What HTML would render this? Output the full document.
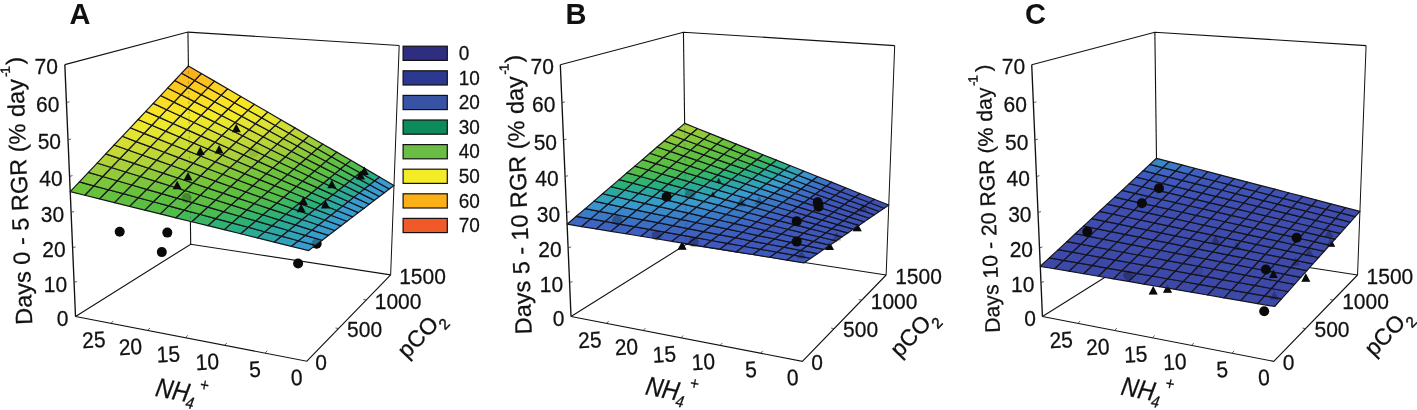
<!DOCTYPE html>
<html><head><meta charset="utf-8"><title>Figure</title>
<style>
html,body{margin:0;padding:0;background:#fff;}
body{width:1417px;height:410px;overflow:hidden;}
svg{display:block;}
.t{font-family:"Liberation Sans",Arial,Helvetica,sans-serif;font-size:21px;fill:#111;stroke:#111;stroke-width:0.25px;}
.a{font-family:"Liberation Sans",Arial,Helvetica,sans-serif;font-size:23px;fill:#111;stroke:#111;stroke-width:0.25px;}
.a text{fill:#111;}
.b{font-family:"Liberation Sans",Arial,Helvetica,sans-serif;font-size:29px;font-weight:bold;fill:#111;}
</style></head><body>
<svg width="1417" height="410" viewBox="0 0 1417 410">
<rect width="1417" height="410" fill="#fff"/>
<polyline points="64.82,64.64 187.95,32.08 399.19,45.49" stroke="#111" stroke-width="1.1" fill="none"/>
<polyline points="187.95,32.08 190.7,244.22" stroke="#111" stroke-width="1.1" fill="none"/>
<polyline points="399.19,45.49 390.65,274.9" stroke="#111" stroke-width="1" fill="none"/>
<polyline points="75.52,316.44 190.7,244.22 390.65,274.9" stroke="#111" stroke-width="1.1" fill="none"/>
<polyline points="75.52,316.44 306.86,361.23 390.65,274.9" stroke="#111" stroke-width="1.1" fill="none"/>
<polyline points="64.82,64.64 75.52,316.44" stroke="#111" stroke-width="1.35" fill="none"/>
<text transform="translate(68.52,326.04) scale(1,1.075)" text-anchor="end" class="t">0</text>
<line x1="74.07" y1="282.34" x2="77.07" y2="281.54" stroke="#333" stroke-width="0.8"/>
<text transform="translate(67.07,291.94) scale(1,1.075)" text-anchor="end" class="t">10</text>
<line x1="72.6" y1="247.65" x2="75.6" y2="246.85" stroke="#333" stroke-width="0.8"/>
<text transform="translate(65.6,257.25) scale(1,1.075)" text-anchor="end" class="t">20</text>
<line x1="71.1" y1="212.34" x2="74.1" y2="211.54" stroke="#333" stroke-width="0.8"/>
<text transform="translate(64.1,221.94) scale(1,1.075)" text-anchor="end" class="t">30</text>
<line x1="69.57" y1="176.4" x2="72.57" y2="175.6" stroke="#333" stroke-width="0.8"/>
<text transform="translate(62.57,186) scale(1,1.075)" text-anchor="end" class="t">40</text>
<line x1="68.02" y1="139.81" x2="71.02" y2="139.01" stroke="#333" stroke-width="0.8"/>
<text transform="translate(61.02,149.41) scale(1,1.075)" text-anchor="end" class="t">50</text>
<line x1="66.43" y1="102.57" x2="69.43" y2="101.77" stroke="#333" stroke-width="0.8"/>
<text transform="translate(59.43,112.17) scale(1,1.075)" text-anchor="end" class="t">60</text>
<text transform="translate(57.82,74.24) scale(1,1.075)" text-anchor="end" class="t">70</text>
<text transform="translate(302.86,384.83) rotate(-3) scale(1,1.075)" text-anchor="end" class="t">0</text>
<line x1="265.04" y1="353.13" x2="267.24" y2="350.73" stroke="#333" stroke-width="0.8"/>
<text transform="translate(261.04,376.73) rotate(-3) scale(1,1.075)" text-anchor="end" class="t">5</text>
<line x1="224.61" y1="345.31" x2="226.81" y2="342.91" stroke="#333" stroke-width="0.8"/>
<text transform="translate(219.41,368.91) rotate(-3) scale(1,1.075)" text-anchor="end" class="t">10</text>
<line x1="185.51" y1="337.74" x2="187.71" y2="335.34" stroke="#333" stroke-width="0.8"/>
<text transform="translate(180.31,361.34) rotate(-3) scale(1,1.075)" text-anchor="end" class="t">15</text>
<line x1="147.67" y1="330.41" x2="149.87" y2="328.01" stroke="#333" stroke-width="0.8"/>
<text transform="translate(142.47,354.01) rotate(-3) scale(1,1.075)" text-anchor="end" class="t">20</text>
<line x1="111.02" y1="323.32" x2="113.22" y2="320.92" stroke="#333" stroke-width="0.8"/>
<text transform="translate(105.82,346.92) rotate(-3) scale(1,1.075)" text-anchor="end" class="t">25</text>
<text transform="translate(315.36,369.83) scale(1,1.075)" class="t">0</text>
<line x1="338.55" y1="328.58" x2="335.55" y2="327.98" stroke="#333" stroke-width="0.8"/>
<text transform="translate(347.05,337.18) scale(1,1.075)" class="t">500</text>
<line x1="366.25" y1="300.05" x2="363.25" y2="299.45" stroke="#333" stroke-width="0.8"/>
<text transform="translate(374.75,308.65) scale(1,1.075)" class="t">1000</text>
<text transform="translate(399.15,283.5) scale(1,1.075)" class="t">1500</text>
<polyline points="560.32,64.74 683.45,32.18 894.69,45.59" stroke="#111" stroke-width="1.1" fill="none"/>
<polyline points="683.45,32.18 686.2,244.32" stroke="#111" stroke-width="1.1" fill="none"/>
<polyline points="894.69,45.59 886.15,275" stroke="#111" stroke-width="1" fill="none"/>
<polyline points="571.02,316.54 686.2,244.32 886.15,275" stroke="#111" stroke-width="1.1" fill="none"/>
<polyline points="571.02,316.54 802.36,361.33 886.15,275" stroke="#111" stroke-width="1.1" fill="none"/>
<polyline points="560.32,64.74 571.02,316.54" stroke="#111" stroke-width="1.35" fill="none"/>
<text transform="translate(564.52,326.14) scale(1,1.075)" text-anchor="end" class="t">0</text>
<line x1="569.57" y1="282.44" x2="572.57" y2="281.64" stroke="#333" stroke-width="0.8"/>
<text transform="translate(563.07,292.04) scale(1,1.075)" text-anchor="end" class="t">10</text>
<line x1="568.1" y1="247.75" x2="571.1" y2="246.95" stroke="#333" stroke-width="0.8"/>
<text transform="translate(561.6,257.35) scale(1,1.075)" text-anchor="end" class="t">20</text>
<line x1="566.6" y1="212.44" x2="569.6" y2="211.64" stroke="#333" stroke-width="0.8"/>
<text transform="translate(560.1,222.04) scale(1,1.075)" text-anchor="end" class="t">30</text>
<line x1="565.07" y1="176.5" x2="568.07" y2="175.7" stroke="#333" stroke-width="0.8"/>
<text transform="translate(558.57,186.1) scale(1,1.075)" text-anchor="end" class="t">40</text>
<line x1="563.52" y1="139.91" x2="566.52" y2="139.11" stroke="#333" stroke-width="0.8"/>
<text transform="translate(557.02,149.51) scale(1,1.075)" text-anchor="end" class="t">50</text>
<line x1="561.93" y1="102.67" x2="564.93" y2="101.87" stroke="#333" stroke-width="0.8"/>
<text transform="translate(555.43,112.27) scale(1,1.075)" text-anchor="end" class="t">60</text>
<text transform="translate(553.82,74.34) scale(1,1.075)" text-anchor="end" class="t">70</text>
<text transform="translate(798.86,384.93) rotate(-3) scale(1,1.075)" text-anchor="end" class="t">0</text>
<line x1="760.54" y1="353.23" x2="762.74" y2="350.83" stroke="#333" stroke-width="0.8"/>
<text transform="translate(757.04,376.83) rotate(-3) scale(1,1.075)" text-anchor="end" class="t">5</text>
<line x1="720.11" y1="345.41" x2="722.31" y2="343.01" stroke="#333" stroke-width="0.8"/>
<text transform="translate(715.41,369.01) rotate(-3) scale(1,1.075)" text-anchor="end" class="t">10</text>
<line x1="681.01" y1="337.84" x2="683.21" y2="335.44" stroke="#333" stroke-width="0.8"/>
<text transform="translate(676.31,361.44) rotate(-3) scale(1,1.075)" text-anchor="end" class="t">15</text>
<line x1="643.17" y1="330.51" x2="645.37" y2="328.11" stroke="#333" stroke-width="0.8"/>
<text transform="translate(638.47,354.11) rotate(-3) scale(1,1.075)" text-anchor="end" class="t">20</text>
<line x1="606.52" y1="323.42" x2="608.72" y2="321.02" stroke="#333" stroke-width="0.8"/>
<text transform="translate(601.82,347.02) rotate(-3) scale(1,1.075)" text-anchor="end" class="t">25</text>
<text transform="translate(811.36,369.93) scale(1,1.075)" class="t">0</text>
<line x1="834.05" y1="328.68" x2="831.05" y2="328.08" stroke="#333" stroke-width="0.8"/>
<text transform="translate(843.05,337.28) scale(1,1.075)" class="t">500</text>
<line x1="861.75" y1="300.15" x2="858.75" y2="299.55" stroke="#333" stroke-width="0.8"/>
<text transform="translate(870.75,308.75) scale(1,1.075)" class="t">1000</text>
<text transform="translate(895.15,283.6) scale(1,1.075)" class="t">1500</text>
<polyline points="1031.72,64.74 1154.85,32.18 1366.09,45.59" stroke="#111" stroke-width="1.1" fill="none"/>
<polyline points="1154.85,32.18 1157.6,244.32" stroke="#111" stroke-width="1.1" fill="none"/>
<polyline points="1366.09,45.59 1357.55,275" stroke="#111" stroke-width="1" fill="none"/>
<polyline points="1042.42,316.54 1157.6,244.32 1357.55,275" stroke="#111" stroke-width="1.1" fill="none"/>
<polyline points="1042.42,316.54 1273.76,361.33 1357.55,275" stroke="#111" stroke-width="1.1" fill="none"/>
<polyline points="1031.72,64.74 1042.42,316.54" stroke="#111" stroke-width="1.35" fill="none"/>
<text transform="translate(1035.92,326.14) scale(1,1.075)" text-anchor="end" class="t">0</text>
<line x1="1040.97" y1="282.44" x2="1043.97" y2="281.64" stroke="#333" stroke-width="0.8"/>
<text transform="translate(1034.47,292.04) scale(1,1.075)" text-anchor="end" class="t">10</text>
<line x1="1039.5" y1="247.75" x2="1042.5" y2="246.95" stroke="#333" stroke-width="0.8"/>
<text transform="translate(1033,257.35) scale(1,1.075)" text-anchor="end" class="t">20</text>
<line x1="1038" y1="212.44" x2="1041" y2="211.64" stroke="#333" stroke-width="0.8"/>
<text transform="translate(1031.5,222.04) scale(1,1.075)" text-anchor="end" class="t">30</text>
<line x1="1036.47" y1="176.5" x2="1039.47" y2="175.7" stroke="#333" stroke-width="0.8"/>
<text transform="translate(1029.97,186.1) scale(1,1.075)" text-anchor="end" class="t">40</text>
<line x1="1034.92" y1="139.91" x2="1037.92" y2="139.11" stroke="#333" stroke-width="0.8"/>
<text transform="translate(1028.42,149.51) scale(1,1.075)" text-anchor="end" class="t">50</text>
<line x1="1033.33" y1="102.67" x2="1036.33" y2="101.87" stroke="#333" stroke-width="0.8"/>
<text transform="translate(1026.83,112.27) scale(1,1.075)" text-anchor="end" class="t">60</text>
<text transform="translate(1025.22,74.34) scale(1,1.075)" text-anchor="end" class="t">70</text>
<text transform="translate(1270.26,384.93) rotate(-3) scale(1,1.075)" text-anchor="end" class="t">0</text>
<line x1="1231.94" y1="353.23" x2="1234.14" y2="350.83" stroke="#333" stroke-width="0.8"/>
<text transform="translate(1228.44,376.83) rotate(-3) scale(1,1.075)" text-anchor="end" class="t">5</text>
<line x1="1191.51" y1="345.41" x2="1193.71" y2="343.01" stroke="#333" stroke-width="0.8"/>
<text transform="translate(1186.81,369.01) rotate(-3) scale(1,1.075)" text-anchor="end" class="t">10</text>
<line x1="1152.41" y1="337.84" x2="1154.61" y2="335.44" stroke="#333" stroke-width="0.8"/>
<text transform="translate(1147.71,361.44) rotate(-3) scale(1,1.075)" text-anchor="end" class="t">15</text>
<line x1="1114.57" y1="330.51" x2="1116.77" y2="328.11" stroke="#333" stroke-width="0.8"/>
<text transform="translate(1109.87,354.11) rotate(-3) scale(1,1.075)" text-anchor="end" class="t">20</text>
<line x1="1077.92" y1="323.42" x2="1080.12" y2="321.02" stroke="#333" stroke-width="0.8"/>
<text transform="translate(1073.22,347.02) rotate(-3) scale(1,1.075)" text-anchor="end" class="t">25</text>
<text transform="translate(1282.76,369.93) scale(1,1.075)" class="t">0</text>
<line x1="1305.45" y1="328.68" x2="1302.45" y2="328.08" stroke="#333" stroke-width="0.8"/>
<text transform="translate(1314.45,337.28) scale(1,1.075)" class="t">500</text>
<line x1="1333.15" y1="300.15" x2="1330.15" y2="299.55" stroke="#333" stroke-width="0.8"/>
<text transform="translate(1342.15,308.75) scale(1,1.075)" class="t">1000</text>
<text transform="translate(1366.55,283.6) scale(1,1.075)" class="t">1500</text>
<circle cx="316.6" cy="243.7" r="5" fill="#0a0a0a" opacity="1"/>
<polygon points="682.1,241.18 686.6,249.72 677.6,249.72" fill="#0a0a0a" opacity="1"/>
<polygon points="857.2,222.78 861.7,231.32 852.7,231.32" fill="#0a0a0a" opacity="1"/>
<polygon points="829.5,241.47 834,250.02 825,250.02" fill="#0a0a0a" opacity="1"/>
<polygon points="1153.2,285.97 1157.7,294.52 1148.7,294.52" fill="#0a0a0a" opacity="1"/>
<polygon points="1167.5,284.27 1172,292.82 1163,292.82" fill="#0a0a0a" opacity="1"/>
<polygon points="1305.8,273.27 1310.3,281.82 1301.3,281.82" fill="#0a0a0a" opacity="1"/>
<polygon points="1330.7,238.18 1335.2,246.72 1326.2,246.72" fill="#0a0a0a" opacity="1"/>
<g stroke="#16141c" stroke-width="1.2" stroke-linejoin="round"><polygon points="308.68,250.6 291.32,246.31 298.39,240.75 315.54,245.36" fill="#379dca"/><polygon points="315.54,245.36 298.39,240.75 305.25,235.35 322.2,240.27" fill="#379dca"/><polygon points="322.2,240.27 305.25,235.35 311.93,230.1 328.66,235.33" fill="#379dcb"/><polygon points="328.66,235.33 311.93,230.1 318.42,225 334.95,230.52" fill="#379dcb"/><polygon points="334.95,230.52 318.42,225 324.73,220.04 341.06,225.85" fill="#379dcb"/><polygon points="341.06,225.85 324.73,220.04 330.87,215.21 347,221.31" fill="#379dcb"/><polygon points="347,221.31 330.87,215.21 336.85,210.51 352.79,216.89" fill="#389ccc"/><polygon points="352.79,216.89 336.85,210.51 342.67,205.93 358.42,212.59" fill="#389ccc"/><polygon points="358.42,212.59 342.67,205.93 348.34,201.47 363.9,208.4" fill="#389ccc"/><polygon points="363.9,208.4 348.34,201.47 353.86,197.13 369.24,204.31" fill="#389ccc"/><polygon points="369.24,204.31 353.86,197.13 359.25,192.9 374.44,200.34" fill="#389ccc"/><polygon points="374.44,200.34 359.25,192.9 364.5,188.77 379.51,196.46" fill="#389ccd"/><polygon points="379.51,196.46 364.5,188.77 369.62,184.74 384.46,192.68" fill="#389ccd"/><polygon points="384.46,192.68 369.62,184.74 374.61,180.81 389.28,189" fill="#389ccd"/><polygon points="389.28,189 374.61,180.81 379.49,176.98 393.98,185.4" fill="#389ccd"/><polygon points="291.32,246.31 274.18,242.08 281.45,236.2 298.39,240.75" fill="#32a2ba"/><polygon points="298.39,240.75 281.45,236.2 288.52,230.49 305.25,235.35" fill="#31a3b6"/><polygon points="305.25,235.35 288.52,230.49 295.39,224.94 311.93,230.1" fill="#30a4b3"/><polygon points="311.93,230.1 295.39,224.94 302.08,219.54 318.42,225" fill="#2fa5af"/><polygon points="318.42,225 302.08,219.54 308.58,214.29 324.73,220.04" fill="#2ea6ac"/><polygon points="324.73,220.04 308.58,214.29 314.92,209.17 330.87,215.21" fill="#2da7a9"/><polygon points="330.87,215.21 314.92,209.17 321.08,204.19 336.85,210.51" fill="#2ca8a5"/><polygon points="336.85,210.51 321.08,204.19 327.08,199.34 342.67,205.93" fill="#2ca9a1"/><polygon points="342.67,205.93 327.08,199.34 332.93,194.62 348.34,201.47" fill="#2baa9d"/><polygon points="348.34,201.47 332.93,194.62 338.64,190.01 353.86,197.13" fill="#2baa99"/><polygon points="353.86,197.13 338.64,190.01 344.2,185.52 359.25,192.9" fill="#2aab95"/><polygon points="359.25,192.9 344.2,185.52 349.62,181.14 364.5,188.77" fill="#2aac91"/><polygon points="364.5,188.77 349.62,181.14 354.91,176.87 369.62,184.74" fill="#2aad8c"/><polygon points="369.62,184.74 354.91,176.87 360.07,172.7 374.61,180.81" fill="#29ae88"/><polygon points="374.61,180.81 360.07,172.7 365.11,168.63 379.49,176.98" fill="#29ae84"/><polygon points="274.18,242.08 257.26,237.9 264.73,231.71 281.45,236.2" fill="#2da7a9"/><polygon points="281.45,236.2 264.73,231.71 271.99,225.69 288.52,230.49" fill="#2ca9a2"/><polygon points="288.52,230.49 271.99,225.69 279.06,219.84 295.39,224.94" fill="#2baa99"/><polygon points="295.39,224.94 279.06,219.84 285.93,214.14 302.08,219.54" fill="#2aac90"/><polygon points="302.08,219.54 285.93,214.14 292.62,208.6 308.58,214.29" fill="#29ae88"/><polygon points="308.58,214.29 292.62,208.6 299.13,203.2 314.92,209.17" fill="#28af7f"/><polygon points="314.92,209.17 299.13,203.2 305.48,197.95 321.08,204.19" fill="#2bb178"/><polygon points="321.08,204.19 305.48,197.95 311.66,192.82 327.08,199.34" fill="#2fb372"/><polygon points="327.08,199.34 311.66,192.82 317.68,187.83 332.93,194.62" fill="#33b46c"/><polygon points="332.93,194.62 317.68,187.83 323.56,182.96 338.64,190.01" fill="#37b667"/><polygon points="338.64,190.01 323.56,182.96 329.28,178.22 344.2,185.52" fill="#3cb861"/><polygon points="344.2,185.52 329.28,178.22 334.87,173.59 349.62,181.14" fill="#40b95b"/><polygon points="349.62,181.14 334.87,173.59 340.33,169.07 354.91,176.87" fill="#46ba56"/><polygon points="354.91,176.87 340.33,169.07 345.65,164.66 360.07,172.7" fill="#4bbc50"/><polygon points="360.07,172.7 345.65,164.66 350.85,160.35 365.11,168.63" fill="#50bd4b"/><polygon points="257.26,237.9 240.56,233.77 248.22,227.27 264.73,231.71" fill="#2bab96"/><polygon points="264.73,231.71 248.22,227.27 255.67,220.95 271.99,225.69" fill="#29ad89"/><polygon points="271.99,225.69 255.67,220.95 262.91,214.79 279.06,219.84" fill="#28b07c"/><polygon points="279.06,219.84 262.91,214.79 269.97,208.81 285.93,214.14" fill="#2eb373"/><polygon points="285.93,214.14 269.97,208.81 276.83,202.98 292.62,208.6" fill="#35b56a"/><polygon points="292.62,208.6 276.83,202.98 283.52,197.3 299.13,203.2" fill="#3bb861"/><polygon points="299.13,203.2 283.52,197.3 290.04,191.76 305.48,197.95" fill="#43ba59"/><polygon points="305.48,197.95 290.04,191.76 296.39,186.37 311.66,192.82" fill="#4abc50"/><polygon points="311.66,192.82 296.39,186.37 302.58,181.11 317.68,187.83" fill="#52be48"/><polygon points="317.68,187.83 302.58,181.11 308.62,175.98 323.56,182.96" fill="#56be45"/><polygon points="323.56,182.96 308.62,175.98 314.51,170.98 329.28,178.22" fill="#58bf43"/><polygon points="329.28,178.22 314.51,170.98 320.26,166.1 334.87,173.59" fill="#5bbf42"/><polygon points="334.87,173.59 320.26,166.1 325.87,161.33 340.33,169.07" fill="#5ec040"/><polygon points="340.33,169.07 325.87,161.33 331.35,156.68 345.65,164.66" fill="#60c03f"/><polygon points="345.65,164.66 331.35,156.68 336.71,152.13 350.85,160.35" fill="#63c13d"/><polygon points="240.56,233.77 224.08,229.7 231.92,222.89 248.22,227.27" fill="#29af82"/><polygon points="248.22,227.27 231.92,222.89 239.54,216.26 255.67,220.95" fill="#2eb274"/><polygon points="255.67,220.95 239.54,216.26 246.96,209.81 262.91,214.79" fill="#36b668"/><polygon points="262.91,214.79 246.96,209.81 254.18,203.53 269.97,208.81" fill="#3fb95c"/><polygon points="269.97,208.81 254.18,203.53 261.22,197.41 276.83,202.98" fill="#4abb51"/><polygon points="276.83,202.98 261.22,197.41 268.08,191.45 283.52,197.3" fill="#54be46"/><polygon points="283.52,197.3 268.08,191.45 274.76,185.65 290.04,191.76" fill="#57bf44"/><polygon points="290.04,191.76 274.76,185.65 281.27,179.98 296.39,186.37" fill="#5bbf42"/><polygon points="296.39,186.37 281.27,179.98 287.63,174.46 302.58,181.11" fill="#5ec040"/><polygon points="302.58,181.11 287.63,174.46 293.82,169.07 308.62,175.98" fill="#62c13e"/><polygon points="308.62,175.98 293.82,169.07 299.87,163.81 314.51,170.98" fill="#65c13c"/><polygon points="314.51,170.98 299.87,163.81 305.78,158.68 320.26,166.1" fill="#69c23a"/><polygon points="320.26,166.1 305.78,158.68 311.54,153.67 325.87,161.33" fill="#70c33a"/><polygon points="325.87,161.33 311.54,153.67 317.17,148.77 331.35,156.68" fill="#77c53a"/><polygon points="331.35,156.68 317.17,148.77 322.68,143.99 336.71,152.13" fill="#7ec63a"/><polygon points="224.08,229.7 207.81,225.68 215.81,218.56 231.92,222.89" fill="#2fb372"/><polygon points="231.92,222.89 215.81,218.56 223.6,211.64 239.54,216.26" fill="#3ab763"/><polygon points="239.54,216.26 223.6,211.64 231.19,204.89 246.96,209.81" fill="#46bb55"/><polygon points="246.96,209.81 231.19,204.89 238.58,198.32 254.18,203.53" fill="#53be47"/><polygon points="254.18,203.53 238.58,198.32 245.78,191.92 261.22,197.41" fill="#58bf44"/><polygon points="261.22,197.41 245.78,191.92 252.8,185.68 268.08,191.45" fill="#5cc041"/><polygon points="268.08,191.45 252.8,185.68 259.64,179.59 274.76,185.65" fill="#61c13e"/><polygon points="274.76,185.65 259.64,179.59 266.31,173.66 281.27,179.98" fill="#65c13c"/><polygon points="281.27,179.98 266.31,173.66 272.82,167.87 287.63,174.46" fill="#6ac23a"/><polygon points="287.63,174.46 272.82,167.87 279.17,162.22 293.82,169.07" fill="#73c43a"/><polygon points="293.82,169.07 279.17,162.22 285.37,156.71 299.87,163.81" fill="#7bc63a"/><polygon points="299.87,163.81 285.37,156.71 291.42,151.32 305.78,158.68" fill="#84c73a"/><polygon points="305.78,158.68 291.42,151.32 297.34,146.06 311.54,153.67" fill="#8dc93a"/><polygon points="311.54,153.67 297.34,146.06 303.11,140.93 317.17,148.77" fill="#95cb3a"/><polygon points="317.17,148.77 303.11,140.93 308.76,135.9 322.68,143.99" fill="#9ecd3a"/><polygon points="207.81,225.68 191.74,221.72 199.91,214.29 215.81,218.56" fill="#39b764"/><polygon points="215.81,218.56 199.91,214.29 207.86,207.06 223.6,211.64" fill="#48bb53"/><polygon points="223.6,211.64 207.86,207.06 215.61,200.02 231.19,204.89" fill="#55be45"/><polygon points="231.19,204.89 215.61,200.02 223.15,193.16 238.58,198.32" fill="#5abf42"/><polygon points="238.58,198.32 223.15,193.16 230.51,186.48 245.78,191.92" fill="#5fc03f"/><polygon points="245.78,191.92 230.51,186.48 237.68,179.96 252.8,185.68" fill="#65c13c"/><polygon points="252.8,185.68 237.68,179.96 244.67,173.6 259.64,179.59" fill="#6bc33a"/><polygon points="259.64,179.59 244.67,173.6 251.49,167.4 266.31,173.66" fill="#76c53a"/><polygon points="266.31,173.66 251.49,167.4 258.15,161.34 272.82,167.87" fill="#80c73a"/><polygon points="272.82,167.87 258.15,161.34 264.65,155.44 279.17,162.22" fill="#8ac93a"/><polygon points="279.17,162.22 264.65,155.44 271,149.67 285.37,156.71" fill="#95cb3a"/><polygon points="285.37,156.71 271,149.67 277.2,144.03 291.42,151.32" fill="#9fce3a"/><polygon points="291.42,151.32 277.2,144.03 283.25,138.53 297.34,146.06" fill="#a9d03a"/><polygon points="297.34,146.06 283.25,138.53 289.17,133.15 303.11,140.93" fill="#b1d339"/><polygon points="303.11,140.93 289.17,133.15 294.96,127.89 308.76,135.9" fill="#b9d637"/><polygon points="191.74,221.72 175.88,217.8 184.2,210.07 199.91,214.29" fill="#44ba57"/><polygon points="199.91,214.29 184.2,210.07 192.31,202.54 207.86,207.06" fill="#55be46"/><polygon points="207.86,207.06 192.31,202.54 200.2,195.21 215.61,200.02" fill="#5bbf42"/><polygon points="215.61,200.02 200.2,195.21 207.9,188.06 223.15,193.16" fill="#61c13e"/><polygon points="223.15,193.16 207.9,188.06 215.4,181.1 230.51,186.48" fill="#67c23b"/><polygon points="230.51,186.48 215.4,181.1 222.72,174.3 237.68,179.96" fill="#72c43a"/><polygon points="237.68,179.96 222.72,174.3 229.86,167.67 244.67,173.6" fill="#7ec63a"/><polygon points="244.67,173.6 229.86,167.67 236.83,161.2 251.49,167.4" fill="#8ac83a"/><polygon points="251.49,167.4 236.83,161.2 243.63,154.88 258.15,161.34" fill="#96cb3a"/><polygon points="258.15,161.34 243.63,154.88 250.27,148.72 264.65,155.44" fill="#a2ce3a"/><polygon points="264.65,155.44 250.27,148.72 256.76,142.69 271,149.67" fill="#add239"/><polygon points="271,149.67 256.76,142.69 263.09,136.81 277.2,144.03" fill="#b6d538"/><polygon points="277.2,144.03 263.09,136.81 269.29,131.05 283.25,138.53" fill="#bfd836"/><polygon points="283.25,138.53 269.29,131.05 275.34,125.43 289.17,133.15" fill="#c7db35"/><polygon points="289.17,133.15 275.34,125.43 281.26,119.93 294.96,127.89" fill="#cfde33"/><polygon points="175.88,217.8 160.22,213.93 168.69,205.9 184.2,210.07" fill="#50bd4a"/><polygon points="184.2,210.07 168.69,205.9 176.93,198.08 192.31,202.54" fill="#5abf43"/><polygon points="192.31,202.54 176.93,198.08 184.98,190.46 200.2,195.21" fill="#60c03f"/><polygon points="200.2,195.21 184.98,190.46 192.82,183.02 207.9,188.06" fill="#67c23a"/><polygon points="207.9,188.06 192.82,183.02 200.46,175.77 215.4,181.1" fill="#75c43a"/><polygon points="215.4,181.1 200.46,175.77 207.92,168.7 222.72,174.3" fill="#82c73a"/><polygon points="222.72,174.3 207.92,168.7 215.2,161.8 229.86,167.67" fill="#90ca3a"/><polygon points="229.86,167.67 215.2,161.8 222.31,155.06 236.83,161.2" fill="#9ecd3a"/><polygon points="236.83,161.2 222.31,155.06 229.25,148.48 243.63,154.88" fill="#abd13a"/><polygon points="243.63,154.88 229.25,148.48 236.02,142.06 250.27,148.72" fill="#b5d438"/><polygon points="250.27,148.72 236.02,142.06 242.65,135.78 256.76,142.69" fill="#bfd836"/><polygon points="256.76,142.69 242.65,135.78 249.12,129.64 263.09,136.81" fill="#c9db34"/><polygon points="263.09,136.81 249.12,129.64 255.44,123.65 269.29,131.05" fill="#d2df33"/><polygon points="269.29,131.05 255.44,123.65 261.63,117.78 275.34,125.43" fill="#dbe231"/><polygon points="275.34,125.43 261.63,117.78 267.68,112.05 281.26,119.93" fill="#e3e52f"/><polygon points="160.22,213.93 144.75,210.11 153.36,201.78 168.69,205.9" fill="#57bf44"/><polygon points="168.69,205.9 153.36,201.78 161.74,193.67 176.93,198.08" fill="#5ec040"/><polygon points="176.93,198.08 161.74,193.67 169.92,185.76 184.98,190.46" fill="#66c23b"/><polygon points="184.98,190.46 169.92,185.76 177.9,178.04 192.82,183.02" fill="#74c43a"/><polygon points="192.82,183.02 177.9,178.04 185.68,170.51 200.46,175.77" fill="#83c73a"/><polygon points="200.46,175.77 185.68,170.51 193.28,163.16 207.92,168.7" fill="#93cb3a"/><polygon points="207.92,168.7 193.28,163.16 200.69,155.99 215.2,161.8" fill="#a2cf3a"/><polygon points="215.2,161.8 200.69,155.99 207.93,148.99 222.31,155.06" fill="#b0d339"/><polygon points="222.31,155.06 207.93,148.99 215,142.14 229.25,148.48" fill="#bbd637"/><polygon points="229.25,148.48 215,142.14 221.91,135.46 236.02,142.06" fill="#c6da35"/><polygon points="236.02,142.06 221.91,135.46 228.66,128.93 242.65,135.78" fill="#d0de33"/><polygon points="242.65,135.78 228.66,128.93 235.26,122.54 249.12,129.64" fill="#dbe231"/><polygon points="249.12,129.64 235.26,122.54 241.71,116.3 255.44,123.65" fill="#e3e52f"/><polygon points="255.44,123.65 241.71,116.3 248.03,110.19 261.63,117.78" fill="#eae72c"/><polygon points="261.63,117.78 248.03,110.19 254.2,104.22 267.68,112.05" fill="#f0e92a"/><polygon points="144.75,210.11 129.48,206.34 138.21,197.71 153.36,201.78" fill="#5bbf42"/><polygon points="153.36,201.78 138.21,197.71 146.73,189.31 161.74,193.67" fill="#63c13d"/><polygon points="161.74,193.67 146.73,189.31 155.04,181.11 169.92,185.76" fill="#70c33a"/><polygon points="169.92,185.76 155.04,181.11 163.15,173.11 177.9,178.04" fill="#81c73a"/><polygon points="177.9,178.04 163.15,173.11 171.06,165.3 185.68,170.51" fill="#92cb3a"/><polygon points="185.68,170.51 171.06,165.3 178.78,157.68 193.28,163.16" fill="#a4cf3a"/><polygon points="193.28,163.16 178.78,157.68 186.33,150.24 200.69,155.99" fill="#b2d338"/><polygon points="200.69,155.99 186.33,150.24 193.69,142.97 207.93,148.99" fill="#bfd836"/><polygon points="207.93,148.99 193.69,142.97 200.89,135.87 215,142.14" fill="#cadc34"/><polygon points="215,142.14 200.89,135.87 207.92,128.92 221.91,135.46" fill="#d6e032"/><polygon points="221.91,135.46 207.92,128.92 214.8,122.14 228.66,128.93" fill="#e1e430"/><polygon points="228.66,128.93 214.8,122.14 221.53,115.5 235.26,122.54" fill="#e8e62d"/><polygon points="235.26,122.54 221.53,115.5 228.1,109.01 241.71,116.3" fill="#efe92a"/><polygon points="241.71,116.3 228.1,109.01 234.54,102.67 248.03,110.19" fill="#f5e928"/><polygon points="248.03,110.19 234.54,102.67 240.83,96.45 254.2,104.22" fill="#f7e626"/><polygon points="129.48,206.34 114.39,202.61 123.25,193.69 138.21,197.71" fill="#5fc040"/><polygon points="138.21,197.71 123.25,193.69 131.89,185 146.73,189.31" fill="#68c23a"/><polygon points="146.73,189.31 131.89,185 140.33,176.51 155.04,181.11" fill="#7bc63a"/><polygon points="155.04,181.11 140.33,176.51 148.56,168.23 163.15,173.11" fill="#8eca3a"/><polygon points="163.15,173.11 148.56,168.23 156.59,160.15 171.06,165.3" fill="#a1ce3a"/><polygon points="171.06,165.3 156.59,160.15 164.44,152.26 178.78,157.68" fill="#b1d338"/><polygon points="178.78,157.68 164.44,152.26 172.11,144.54 186.33,150.24" fill="#bfd836"/><polygon points="186.33,150.24 172.11,144.54 179.59,137.01 193.69,142.97" fill="#ccdd34"/><polygon points="193.69,142.97 179.59,137.01 186.91,129.65 200.89,135.87" fill="#d9e131"/><polygon points="200.89,135.87 186.91,129.65 194.07,122.45 207.92,128.92" fill="#e3e52f"/><polygon points="207.92,128.92 194.07,122.45 201.07,115.41 214.8,122.14" fill="#ebe72b"/><polygon points="214.8,122.14 201.07,115.41 207.91,108.53 221.53,115.5" fill="#f3ea28"/><polygon points="221.53,115.5 207.91,108.53 214.6,101.79 228.1,109.01" fill="#f6e727"/><polygon points="228.1,109.01 214.6,101.79 221.15,95.2 234.54,102.67" fill="#f9e325"/><polygon points="234.54,102.67 221.15,95.2 227.57,88.75 240.83,96.45" fill="#fade23"/><polygon points="114.39,202.61 99.48,198.93 108.46,189.72 123.25,193.69" fill="#63c13d"/><polygon points="123.25,193.69 108.46,189.72 117.23,180.74 131.89,185" fill="#72c43a"/><polygon points="131.89,185 117.23,180.74 125.78,171.97 140.33,176.51" fill="#86c83a"/><polygon points="140.33,176.51 125.78,171.97 134.13,163.41 148.56,168.23" fill="#9bcd3a"/><polygon points="148.56,168.23 134.13,163.41 142.28,155.05 156.59,160.15" fill="#aed239"/><polygon points="156.59,160.15 142.28,155.05 150.25,146.89 164.44,152.26" fill="#bed736"/><polygon points="164.44,152.26 150.25,146.89 158.03,138.91 172.11,144.54" fill="#ccdc34"/><polygon points="172.11,144.54 158.03,138.91 165.63,131.11 179.59,137.01" fill="#d9e231"/><polygon points="179.59,137.01 165.63,131.11 173.07,123.49 186.91,129.65" fill="#e5e52e"/><polygon points="186.91,129.65 173.07,123.49 180.34,116.03 194.07,122.45" fill="#ede82b"/><polygon points="194.07,122.45 180.34,116.03 187.45,108.74 201.07,115.41" fill="#f5e928"/><polygon points="201.07,115.41 187.45,108.74 194.41,101.61 207.91,108.53" fill="#f7e526"/><polygon points="207.91,108.53 194.41,101.61 201.22,94.63 214.6,101.79" fill="#fae124"/><polygon points="214.6,101.79 201.22,94.63 207.88,87.8 221.15,95.2" fill="#fbd922"/><polygon points="221.15,95.2 207.88,87.8 214.41,81.11 227.57,88.75" fill="#fcd11f"/><polygon points="99.48,198.93 84.76,195.29 93.86,185.8 108.46,189.72" fill="#66c23b"/><polygon points="108.46,189.72 93.86,185.8 102.73,176.53 117.23,180.74" fill="#7bc63a"/><polygon points="117.23,180.74 102.73,176.53 111.39,167.48 125.78,171.97" fill="#92ca3a"/><polygon points="125.78,171.97 111.39,167.48 119.85,158.64 134.13,163.41" fill="#a8d03a"/><polygon points="134.13,163.41 119.85,158.64 128.12,150.01 142.28,155.05" fill="#b9d637"/><polygon points="142.28,155.05 128.12,150.01 136.2,141.57 150.25,146.89" fill="#c9db34"/><polygon points="150.25,146.89 136.2,141.57 144.09,133.33 158.03,138.91" fill="#d8e132"/><polygon points="158.03,138.91 144.09,133.33 151.81,125.27 165.63,131.11" fill="#e4e52e"/><polygon points="165.63,131.11 151.81,125.27 159.35,117.39 173.07,123.49" fill="#eee82b"/><polygon points="173.07,123.49 159.35,117.39 166.74,109.68 180.34,116.03" fill="#f5e927"/><polygon points="180.34,116.03 166.74,109.68 173.96,102.13 187.45,108.74" fill="#f8e426"/><polygon points="187.45,108.74 173.96,102.13 181.03,94.75 194.41,101.61" fill="#fadf23"/><polygon points="194.41,101.61 181.03,94.75 187.94,87.53 201.22,94.63" fill="#fcd621"/><polygon points="201.22,94.63 187.94,87.53 194.72,80.45 207.88,87.8" fill="#fdcc1e"/><polygon points="207.88,87.8 194.72,80.45 201.35,73.52 214.41,81.11" fill="#fdc11d"/><polygon points="84.76,195.29 70.22,191.7 79.42,181.92 93.86,185.8" fill="#6dc33a"/><polygon points="93.86,185.8 79.42,181.92 88.4,172.36 102.73,176.53" fill="#85c73a"/><polygon points="102.73,176.53 88.4,172.36 97.17,163.04 111.39,167.48" fill="#9dcd3a"/><polygon points="111.39,167.48 97.17,163.04 105.74,153.92 119.85,158.64" fill="#b2d338"/><polygon points="119.85,158.64 105.74,153.92 114.11,145.02 128.12,150.01" fill="#c4d935"/><polygon points="128.12,150.01 114.11,145.02 122.29,136.31 136.2,141.57" fill="#d4df32"/><polygon points="136.2,141.57 122.29,136.31 130.29,127.8 144.09,133.33" fill="#e3e52f"/><polygon points="144.09,133.33 130.29,127.8 138.11,119.48 151.81,125.27" fill="#ede82b"/><polygon points="151.81,125.27 138.11,119.48 145.77,111.34 159.35,117.39" fill="#f5e927"/><polygon points="159.35,117.39 145.77,111.34 153.26,103.38 166.74,109.68" fill="#f8e425"/><polygon points="166.74,109.68 153.26,103.38 160.58,95.58 173.96,102.13" fill="#fade23"/><polygon points="173.96,102.13 160.58,95.58 167.76,87.95 181.03,94.75" fill="#fcd420"/><polygon points="181.03,94.75 167.76,87.95 174.78,80.48 187.94,87.53" fill="#fdc91e"/><polygon points="187.94,87.53 174.78,80.48 181.66,73.17 194.72,80.45" fill="#fcbd1d"/><polygon points="194.72,80.45 181.66,73.17 188.39,66 201.35,73.52" fill="#fcb11c"/></g>
<g stroke="#16141c" stroke-width="1.2" stroke-linejoin="round"><polygon points="803.98,262.9 786.65,260.07 793.69,255.18 810.81,258.24" fill="#3e59bc"/><polygon points="810.81,258.24 793.69,255.18 800.52,250.43 817.43,253.71" fill="#3e58bc"/><polygon points="817.43,253.71 800.52,250.43 807.16,245.82 823.87,249.32" fill="#3e57bb"/><polygon points="823.87,249.32 807.16,245.82 813.61,241.33 830.12,245.05" fill="#3e57ba"/><polygon points="830.12,245.05 813.61,241.33 819.89,236.97 836.2,240.9" fill="#3e56ba"/><polygon points="836.2,240.9 819.89,236.97 825.99,232.73 842.1,236.86" fill="#3e56b9"/><polygon points="842.1,236.86 825.99,232.73 831.93,228.6 847.85,232.94" fill="#3e55b8"/><polygon points="847.85,232.94 831.93,228.6 837.71,224.59 853.45,229.12" fill="#3e55b8"/><polygon points="853.45,229.12 837.71,224.59 843.34,220.67 858.89,225.4" fill="#3e54b7"/><polygon points="858.89,225.4 843.34,220.67 848.82,216.86 864.2,221.78" fill="#3e53b6"/><polygon points="864.2,221.78 848.82,216.86 854.17,213.15 869.36,218.25" fill="#3e53b6"/><polygon points="869.36,218.25 854.17,213.15 859.38,209.53 874.4,214.81" fill="#3e52b5"/><polygon points="874.4,214.81 859.38,209.53 864.46,206 879.3,211.46" fill="#3e52b4"/><polygon points="879.3,211.46 864.46,206 869.41,202.56 884.09,208.19" fill="#3e51b4"/><polygon points="884.09,208.19 869.41,202.56 874.24,199.2 888.76,205" fill="#3e50b3"/><polygon points="786.65,260.07 769.56,257.28 776.8,252.16 793.69,255.18" fill="#3e59bd"/><polygon points="793.69,255.18 776.8,252.16 783.83,247.19 800.52,250.43" fill="#3e58bc"/><polygon points="800.52,250.43 783.83,247.19 790.67,242.36 807.16,245.82" fill="#3e58bc"/><polygon points="807.16,245.82 790.67,242.36 797.31,237.66 813.61,241.33" fill="#3e58bb"/><polygon points="813.61,241.33 797.31,237.66 803.78,233.09 819.89,236.97" fill="#3e57bb"/><polygon points="819.89,236.97 803.78,233.09 810.07,228.65 825.99,232.73" fill="#3e57ba"/><polygon points="825.99,232.73 810.07,228.65 816.19,224.32 831.93,228.6" fill="#3e57ba"/><polygon points="831.93,228.6 816.19,224.32 822.15,220.1 837.71,224.59" fill="#3e56ba"/><polygon points="837.71,224.59 822.15,220.1 827.96,216 843.34,220.67" fill="#3e56b9"/><polygon points="843.34,220.67 827.96,216 833.62,212 848.82,216.86" fill="#3e55b9"/><polygon points="848.82,216.86 833.62,212 839.13,208.1 854.17,213.15" fill="#3e55b8"/><polygon points="854.17,213.15 839.13,208.1 844.51,204.3 859.38,209.53" fill="#3e55b8"/><polygon points="859.38,209.53 844.51,204.3 849.76,200.6 864.46,206" fill="#3e54b7"/><polygon points="864.46,206 849.76,200.6 854.87,196.98 869.41,202.56" fill="#3e54b7"/><polygon points="869.41,202.56 854.87,196.98 859.87,193.45 874.24,199.2" fill="#3e54b7"/><polygon points="769.56,257.28 752.7,254.52 760.13,249.18 776.8,252.16" fill="#3e59bd"/><polygon points="776.8,252.16 760.13,249.18 767.36,243.99 783.83,247.19" fill="#3e59bd"/><polygon points="783.83,247.19 767.36,243.99 774.39,238.94 790.67,242.36" fill="#3e59bc"/><polygon points="790.67,242.36 774.39,238.94 781.22,234.03 797.31,237.66" fill="#3e59bc"/><polygon points="797.31,237.66 781.22,234.03 787.87,229.26 803.78,233.09" fill="#3e58bc"/><polygon points="803.78,233.09 787.87,229.26 794.34,224.61 810.07,228.65" fill="#3e58bc"/><polygon points="810.07,228.65 794.34,224.61 800.63,220.08 816.19,224.32" fill="#3e58bc"/><polygon points="816.19,224.32 800.63,220.08 806.77,215.67 822.15,220.1" fill="#3e58bc"/><polygon points="822.15,220.1 806.77,215.67 812.75,211.38 827.96,216" fill="#3e58bb"/><polygon points="827.96,216 812.75,211.38 818.58,207.19 833.62,212" fill="#3e58bb"/><polygon points="833.62,212 818.58,207.19 824.26,203.11 839.13,208.1" fill="#3e57bb"/><polygon points="839.13,208.1 824.26,203.11 829.8,199.13 844.51,204.3" fill="#3e57bb"/><polygon points="844.51,204.3 829.8,199.13 835.2,195.25 849.76,200.6" fill="#3e57bb"/><polygon points="849.76,200.6 835.2,195.25 840.48,191.46 854.87,196.98" fill="#3e57bb"/><polygon points="854.87,196.98 840.48,191.46 845.63,187.76 859.87,193.45" fill="#3e57ba"/><polygon points="752.7,254.52 736.07,251.81 743.69,246.24 760.13,249.18" fill="#3e59bd"/><polygon points="760.13,249.18 743.69,246.24 751.1,240.83 767.36,243.99" fill="#3e59bd"/><polygon points="767.36,243.99 751.1,240.83 758.31,235.57 774.39,238.94" fill="#3e59bd"/><polygon points="774.39,238.94 758.31,235.57 765.32,230.45 781.22,234.03" fill="#3e59bd"/><polygon points="781.22,234.03 765.32,230.45 772.14,225.47 787.87,229.26" fill="#3e59bd"/><polygon points="787.87,229.26 772.14,225.47 778.79,220.62 794.34,224.61" fill="#3e5abd"/><polygon points="794.34,224.61 778.79,220.62 785.26,215.9 800.63,220.08" fill="#3e5abd"/><polygon points="800.63,220.08 785.26,215.9 791.56,211.29 806.77,215.67" fill="#3e5abe"/><polygon points="806.77,215.67 791.56,211.29 797.7,206.81 812.75,211.38" fill="#3e5abe"/><polygon points="812.75,211.38 797.7,206.81 803.69,202.44 818.58,207.19" fill="#3e5abe"/><polygon points="818.58,207.19 803.69,202.44 809.53,198.17 824.26,203.11" fill="#3e5abe"/><polygon points="824.26,203.11 809.53,198.17 815.23,194.01 829.8,199.13" fill="#3e5abe"/><polygon points="829.8,199.13 815.23,194.01 820.79,189.95 835.2,195.25" fill="#3e5abe"/><polygon points="835.2,195.25 820.79,189.95 826.22,185.99 840.48,191.46" fill="#3e5abe"/><polygon points="840.48,191.46 826.22,185.99 831.52,182.12 845.63,187.76" fill="#3e5bbe"/><polygon points="736.07,251.81 719.67,249.13 727.47,243.34 743.69,246.24" fill="#3e59bd"/><polygon points="743.69,246.24 727.47,243.34 735.06,237.71 751.1,240.83" fill="#3e5abe"/><polygon points="751.1,240.83 735.06,237.71 742.43,232.24 758.31,235.57" fill="#3e5abe"/><polygon points="758.31,235.57 742.43,232.24 749.62,226.91 765.32,230.45" fill="#3e5cbf"/><polygon points="765.32,230.45 749.62,226.91 756.61,221.73 772.14,225.47" fill="#3d5ebf"/><polygon points="772.14,225.47 756.61,221.73 763.42,216.68 778.79,220.62" fill="#3d61c0"/><polygon points="778.79,220.62 763.42,216.68 770.05,211.76 785.26,215.9" fill="#3d63c1"/><polygon points="785.26,215.9 770.05,211.76 776.52,206.96 791.56,211.29" fill="#3d65c1"/><polygon points="791.56,211.29 776.52,206.96 782.82,202.29 797.7,206.81" fill="#3c68c2"/><polygon points="797.7,206.81 782.82,202.29 788.97,197.73 803.69,202.44" fill="#3c6ac3"/><polygon points="803.69,202.44 788.97,197.73 794.96,193.28 809.53,198.17" fill="#3c6cc3"/><polygon points="809.53,198.17 794.96,193.28 800.81,188.94 815.23,194.01" fill="#3c6fc4"/><polygon points="815.23,194.01 800.81,188.94 806.52,184.71 820.79,189.95" fill="#3b71c5"/><polygon points="820.79,189.95 806.52,184.71 812.1,180.57 826.22,185.99" fill="#3b73c5"/><polygon points="826.22,185.99 812.1,180.57 817.54,176.53 831.52,182.12" fill="#3b76c6"/><polygon points="719.67,249.13 703.49,246.48 711.46,240.48 727.47,243.34" fill="#3e5abe"/><polygon points="727.47,243.34 711.46,240.48 719.21,234.64 735.06,237.71" fill="#3e5bbe"/><polygon points="735.06,237.71 719.21,234.64 726.76,228.95 742.43,232.24" fill="#3d5fc0"/><polygon points="742.43,232.24 726.76,228.95 734.1,223.42 749.62,226.91" fill="#3d63c1"/><polygon points="749.62,226.91 734.1,223.42 741.26,218.03 756.61,221.73" fill="#3c67c2"/><polygon points="756.61,221.73 741.26,218.03 748.23,212.78 763.42,216.68" fill="#3c6cc3"/><polygon points="763.42,216.68 748.23,212.78 755.02,207.66 770.05,211.76" fill="#3b70c4"/><polygon points="770.05,211.76 755.02,207.66 761.64,202.68 776.52,206.96" fill="#3b74c6"/><polygon points="776.52,206.96 761.64,202.68 768.1,197.81 782.82,202.29" fill="#3a78c7"/><polygon points="782.82,202.29 768.1,197.81 774.39,193.07 788.97,197.73" fill="#3a7cc8"/><polygon points="788.97,197.73 774.39,193.07 780.54,188.44 794.96,193.28" fill="#3a81c9"/><polygon points="794.96,193.28 780.54,188.44 786.54,183.92 800.81,188.94" fill="#3985c9"/><polygon points="800.81,188.94 786.54,183.92 792.39,179.51 806.52,184.71" fill="#398aca"/><polygon points="806.52,184.71 792.39,179.51 798.11,175.2 812.1,180.57" fill="#398ecb"/><polygon points="812.1,180.57 798.11,175.2 803.7,171 817.54,176.53" fill="#3993cc"/><polygon points="703.49,246.48 687.52,243.87 695.66,237.65 711.46,240.48" fill="#3e5abe"/><polygon points="711.46,240.48 695.66,237.65 703.57,231.6 719.21,234.64" fill="#3d5fbf"/><polygon points="719.21,234.64 703.57,231.6 711.28,225.71 726.76,228.95" fill="#3d65c1"/><polygon points="726.76,228.95 711.28,225.71 718.78,219.97 734.1,223.42" fill="#3c6bc3"/><polygon points="734.1,223.42 718.78,219.97 726.09,214.38 741.26,218.03" fill="#3b71c5"/><polygon points="741.26,218.03 726.09,214.38 733.21,208.93 748.23,212.78" fill="#3b77c6"/><polygon points="748.23,212.78 733.21,208.93 740.16,203.62 755.02,207.66" fill="#3a7dc8"/><polygon points="755.02,207.66 740.16,203.62 746.93,198.44 761.64,202.68" fill="#3a83c9"/><polygon points="761.64,202.68 746.93,198.44 753.53,193.39 768.1,197.81" fill="#3989ca"/><polygon points="768.1,197.81 753.53,193.39 759.98,188.46 774.39,193.07" fill="#3990cb"/><polygon points="774.39,193.07 759.98,188.46 766.26,183.65 780.54,188.44" fill="#3896cc"/><polygon points="780.54,188.44 766.26,183.65 772.4,178.95 786.54,183.92" fill="#389ccc"/><polygon points="786.54,183.92 772.4,178.95 778.4,174.37 792.39,179.51" fill="#359fc3"/><polygon points="792.39,179.51 778.4,174.37 784.26,169.89 798.11,175.2" fill="#32a2ba"/><polygon points="798.11,175.2 784.26,169.89 789.98,165.51 803.7,171" fill="#30a4b2"/><polygon points="687.52,243.87 671.77,241.3 680.06,234.86 695.66,237.65" fill="#3e5bbe"/><polygon points="695.66,237.65 680.06,234.86 688.13,228.6 703.57,231.6" fill="#3d62c0"/><polygon points="703.57,231.6 688.13,228.6 695.99,222.5 711.28,225.71" fill="#3c6ac3"/><polygon points="711.28,225.71 695.99,222.5 703.64,216.56 718.78,219.97" fill="#3b72c5"/><polygon points="718.78,219.97 703.64,216.56 711.1,210.76 726.09,214.38" fill="#3a7ac7"/><polygon points="726.09,214.38 711.1,210.76 718.37,205.12 733.21,208.93" fill="#3a82c9"/><polygon points="733.21,208.93 718.37,205.12 725.46,199.62 740.16,203.62" fill="#398aca"/><polygon points="740.16,203.62 725.46,199.62 732.38,194.25 746.93,198.44" fill="#3993cc"/><polygon points="746.93,198.44 732.38,194.25 739.12,189.01 753.53,193.39" fill="#389bcd"/><polygon points="753.53,193.39 739.12,189.01 745.71,183.9 759.98,188.46" fill="#359fc3"/><polygon points="759.98,188.46 745.71,183.9 752.13,178.91 766.26,183.65" fill="#31a3b7"/><polygon points="766.26,183.65 752.13,178.91 758.41,174.04 772.4,178.95" fill="#2ea6ac"/><polygon points="772.4,178.95 758.41,174.04 764.54,169.28 778.4,174.37" fill="#2ba99f"/><polygon points="778.4,174.37 764.54,169.28 770.53,164.62 784.26,169.89" fill="#2aac91"/><polygon points="784.26,169.89 770.53,164.62 776.39,160.08 789.98,165.51" fill="#29af83"/><polygon points="671.77,241.3 656.22,238.76 664.66,232.11 680.06,234.86" fill="#3e5dbf"/><polygon points="680.06,234.86 664.66,232.11 672.88,225.64 688.13,228.6" fill="#3d66c2"/><polygon points="688.13,228.6 672.88,225.64 680.88,219.33 695.99,222.5" fill="#3b70c4"/><polygon points="695.99,222.5 680.88,219.33 688.68,213.19 703.64,216.56" fill="#3a79c7"/><polygon points="703.64,216.56 688.68,213.19 696.29,207.2 711.1,210.76" fill="#3a83c9"/><polygon points="711.1,210.76 696.29,207.2 703.7,201.36 718.37,205.12" fill="#398ecb"/><polygon points="718.37,205.12 703.7,201.36 710.93,195.66 725.46,199.62" fill="#3898cc"/><polygon points="725.46,199.62 710.93,195.66 717.98,190.1 732.38,194.25" fill="#359fc4"/><polygon points="732.38,194.25 717.98,190.1 724.86,184.68 739.12,189.01" fill="#31a3b6"/><polygon points="739.12,189.01 724.86,184.68 731.58,179.38 745.71,183.9" fill="#2da7a8"/><polygon points="745.71,183.9 731.58,179.38 738.15,174.21 752.13,178.91" fill="#2bab97"/><polygon points="752.13,178.91 738.15,174.21 744.56,169.16 758.41,174.04" fill="#29ae86"/><polygon points="758.41,174.04 744.56,169.16 750.82,164.23 764.54,169.28" fill="#2cb177"/><polygon points="764.54,169.28 750.82,164.23 756.94,159.41 770.53,164.62" fill="#34b56b"/><polygon points="770.53,164.62 756.94,159.41 762.92,154.69 776.39,160.08" fill="#3cb860"/><polygon points="656.22,238.76 640.88,236.25 649.46,229.39 664.66,232.11" fill="#3d5ebf"/><polygon points="664.66,232.11 649.46,229.39 657.82,222.71 672.88,225.64" fill="#3c6ac3"/><polygon points="672.88,225.64 657.82,222.71 665.97,216.2 680.88,219.33" fill="#3b75c6"/><polygon points="680.88,219.33 665.97,216.2 673.9,209.86 688.68,213.19" fill="#3a81c9"/><polygon points="688.68,213.19 673.9,209.86 681.64,203.67 696.29,207.2" fill="#398dcb"/><polygon points="696.29,207.2 681.64,203.67 689.19,197.63 703.7,201.36" fill="#389acd"/><polygon points="703.7,201.36 689.19,197.63 696.56,191.75 710.93,195.66" fill="#34a0bf"/><polygon points="710.93,195.66 696.56,191.75 703.74,186 717.98,190.1" fill="#2fa5af"/><polygon points="717.98,190.1 703.74,186 710.76,180.39 724.86,184.68" fill="#2baa9c"/><polygon points="724.86,184.68 710.76,180.39 717.61,174.92 731.58,179.38" fill="#29ae88"/><polygon points="731.58,179.38 717.61,174.92 724.3,169.57 738.15,174.21" fill="#2cb276"/><polygon points="738.15,174.21 724.3,169.57 730.84,164.34 744.56,169.16" fill="#36b668"/><polygon points="744.56,169.16 730.84,164.34 737.22,159.23 750.82,164.23" fill="#41b95a"/><polygon points="750.82,164.23 737.22,159.23 743.47,154.24 756.94,159.41" fill="#4dbc4d"/><polygon points="756.94,159.41 743.47,154.24 749.58,149.36 762.92,154.69" fill="#56be45"/><polygon points="640.88,236.25 625.74,233.78 634.46,226.71 649.46,229.39" fill="#3d60c0"/><polygon points="649.46,229.39 634.46,226.71 642.95,219.82 657.82,222.71" fill="#3c6ec4"/><polygon points="657.82,222.71 642.95,219.82 651.23,213.11 665.97,216.2" fill="#3a7bc8"/><polygon points="665.97,216.2 651.23,213.11 659.3,206.57 673.9,209.86" fill="#3989ca"/><polygon points="673.9,209.86 659.3,206.57 667.17,200.18 681.64,203.67" fill="#3897cc"/><polygon points="681.64,203.67 667.17,200.18 674.85,193.95 689.19,197.63" fill="#34a0c0"/><polygon points="689.19,197.63 674.85,193.95 682.34,187.88 696.56,191.75" fill="#2ea6ad"/><polygon points="696.56,191.75 682.34,187.88 689.66,181.94 703.74,186" fill="#2bab97"/><polygon points="703.74,186 689.66,181.94 696.8,176.15 710.76,180.39" fill="#28af7f"/><polygon points="710.76,180.39 696.8,176.15 703.77,170.49 717.61,174.92" fill="#32b46e"/><polygon points="717.61,174.92 703.77,170.49 710.59,164.97 724.3,169.57" fill="#3eb95e"/><polygon points="724.3,169.57 710.59,164.97 717.25,159.57 730.84,164.34" fill="#4cbc4e"/><polygon points="730.84,164.34 717.25,159.57 723.76,154.29 737.22,159.23" fill="#56be45"/><polygon points="737.22,159.23 723.76,154.29 730.13,149.12 743.47,154.24" fill="#5bbf42"/><polygon points="743.47,154.24 730.13,149.12 736.35,144.07 749.58,149.36" fill="#5fc03f"/><polygon points="625.74,233.78 610.79,231.34 619.64,224.06 634.46,226.71" fill="#3d62c0"/><polygon points="634.46,226.71 619.64,224.06 628.26,216.97 642.95,219.82" fill="#3b71c5"/><polygon points="642.95,219.82 628.26,216.97 636.67,210.06 651.23,213.11" fill="#3a81c9"/><polygon points="651.23,213.11 636.67,210.06 644.86,203.31 659.3,206.57" fill="#3991cb"/><polygon points="659.3,206.57 644.86,203.31 652.86,196.74 667.17,200.18" fill="#369ec6"/><polygon points="667.17,200.18 652.86,196.74 660.66,190.32 674.85,193.95" fill="#2fa5b0"/><polygon points="674.85,193.95 660.66,190.32 668.28,184.05 682.34,187.88" fill="#2bab97"/><polygon points="682.34,187.88 668.28,184.05 675.72,177.93 689.66,181.94" fill="#28b07c"/><polygon points="689.66,181.94 675.72,177.93 682.98,171.96 696.8,176.15" fill="#35b56a"/><polygon points="696.8,176.15 682.98,171.96 690.08,166.12 703.77,170.49" fill="#43ba58"/><polygon points="703.77,170.49 690.08,166.12 697.02,160.41 710.59,164.97" fill="#53be47"/><polygon points="710.59,164.97 697.02,160.41 703.8,154.84 717.25,159.57" fill="#59bf43"/><polygon points="717.25,159.57 703.8,154.84 710.42,149.38 723.76,154.29" fill="#5ec040"/><polygon points="723.76,154.29 710.42,149.38 716.91,144.05 730.13,149.12" fill="#64c13d"/><polygon points="730.13,149.12 716.91,144.05 723.25,138.84 736.35,144.07" fill="#6ac23a"/><polygon points="610.79,231.34 596.04,228.93 605.01,221.45 619.64,224.06" fill="#3d64c1"/><polygon points="619.64,224.06 605.01,221.45 613.75,214.15 628.26,216.97" fill="#3b75c6"/><polygon points="628.26,216.97 613.75,214.15 622.28,207.04 636.67,210.06" fill="#3987ca"/><polygon points="636.67,210.06 622.28,207.04 630.6,200.1 644.86,203.31" fill="#3899cd"/><polygon points="644.86,203.31 630.6,200.1 638.72,193.33 652.86,196.74" fill="#32a2b9"/><polygon points="652.86,196.74 638.72,193.33 646.64,186.72 660.66,190.32" fill="#2ba99f"/><polygon points="660.66,190.32 646.64,186.72 654.38,180.26 668.28,184.05" fill="#28af80"/><polygon points="668.28,184.05 654.38,180.26 661.93,173.96 675.72,177.93" fill="#35b56a"/><polygon points="675.72,177.93 661.93,173.96 669.31,167.8 682.98,171.96" fill="#45ba56"/><polygon points="682.98,171.96 669.31,167.8 676.53,161.79 690.08,166.12" fill="#55be45"/><polygon points="690.08,166.12 676.53,161.79 683.58,155.9 697.02,160.41" fill="#5bbf42"/><polygon points="697.02,160.41 683.58,155.9 690.47,150.15 703.8,154.84" fill="#61c13e"/><polygon points="703.8,154.84 690.47,150.15 697.21,144.53 710.42,149.38" fill="#67c23b"/><polygon points="710.42,149.38 697.21,144.53 703.81,139.03 716.91,144.05" fill="#71c43a"/><polygon points="716.91,144.05 703.81,139.03 710.26,133.64 723.25,138.84" fill="#7dc63a"/><polygon points="596.04,228.93 581.48,226.55 590.56,218.86 605.01,221.45" fill="#3d66c2"/><polygon points="605.01,221.45 590.56,218.86 599.42,211.37 613.75,214.15" fill="#3a79c7"/><polygon points="613.75,214.15 599.42,211.37 608.07,204.06 622.28,207.04" fill="#398dcb"/><polygon points="622.28,207.04 608.07,204.06 616.5,196.92 630.6,200.1" fill="#369ec7"/><polygon points="630.6,200.1 616.5,196.92 624.73,189.96 638.72,193.33" fill="#2ea6ab"/><polygon points="638.72,193.33 624.73,189.96 632.77,183.16 646.64,186.72" fill="#29ad8b"/><polygon points="646.64,186.72 632.77,183.16 640.62,176.52 654.38,180.26" fill="#31b46f"/><polygon points="654.38,180.26 640.62,176.52 648.29,170.03 661.93,173.96" fill="#43ba59"/><polygon points="661.93,173.96 648.29,170.03 655.79,163.69 669.31,167.8" fill="#55be46"/><polygon points="669.31,167.8 655.79,163.69 663.11,157.5 676.53,161.79" fill="#5bbf42"/><polygon points="676.53,161.79 663.11,157.5 670.27,151.44 683.58,155.9" fill="#62c13e"/><polygon points="683.58,155.9 670.27,151.44 677.28,145.51 690.47,150.15" fill="#69c23a"/><polygon points="690.47,150.15 677.28,145.51 684.13,139.72 697.21,144.53" fill="#76c53a"/><polygon points="697.21,144.53 684.13,139.72 690.83,134.05 703.81,139.03" fill="#83c73a"/><polygon points="703.81,139.03 690.83,134.05 697.39,128.5 710.26,133.64" fill="#90ca3a"/><polygon points="581.48,226.55 567.1,224.2 576.29,216.31 590.56,218.86" fill="#3c68c2"/><polygon points="590.56,218.86 576.29,216.31 585.26,208.62 599.42,211.37" fill="#3a7cc8"/><polygon points="599.42,211.37 585.26,208.62 594.02,201.11 608.07,204.06" fill="#3993cc"/><polygon points="608.07,204.06 594.02,201.11 602.56,193.78 616.5,196.92" fill="#33a1bc"/><polygon points="616.5,196.92 602.56,193.78 610.91,186.63 624.73,189.96" fill="#2baa9c"/><polygon points="624.73,189.96 610.91,186.63 619.06,179.64 632.77,183.16" fill="#2ab179"/><polygon points="632.77,183.16 619.06,179.64 627.01,172.81 640.62,176.52" fill="#3cb860"/><polygon points="640.62,176.52 627.01,172.81 634.79,166.14 648.29,170.03" fill="#52bd48"/><polygon points="648.29,170.03 634.79,166.14 642.4,159.62 655.79,163.69" fill="#5bbf42"/><polygon points="655.79,163.69 642.4,159.62 649.83,153.25 663.11,157.5" fill="#62c13e"/><polygon points="663.11,157.5 649.83,153.25 657.1,147.02 670.27,151.44" fill="#6ac23a"/><polygon points="670.27,151.44 657.1,147.02 664.21,140.92 677.28,145.51" fill="#78c53a"/><polygon points="677.28,145.51 664.21,140.92 671.16,134.95 684.13,139.72" fill="#87c83a"/><polygon points="684.13,139.72 671.16,134.95 677.97,129.11 690.83,134.05" fill="#95cb3a"/><polygon points="690.83,134.05 677.97,129.11 684.64,123.4 697.39,128.5" fill="#a3cf3a"/></g>
<g stroke="#16141c" stroke-width="1.2" stroke-linejoin="round"><polygon points="1274.66,306.5 1257.52,303.56 1264.52,295.91 1281.47,298.91" fill="#3c49a7"/><polygon points="1281.47,298.91 1264.52,295.91 1271.33,288.48 1288.08,291.53" fill="#3c49a8"/><polygon points="1288.08,291.53 1271.33,288.48 1277.95,281.24 1294.52,284.35" fill="#3c49a8"/><polygon points="1294.52,284.35 1277.95,281.24 1284.4,274.2 1300.78,277.37" fill="#3d4aa9"/><polygon points="1300.78,277.37 1284.4,274.2 1290.67,267.35 1306.87,270.57" fill="#3d4aa9"/><polygon points="1306.87,270.57 1290.67,267.35 1296.78,260.67 1312.8,263.96" fill="#3d4aaa"/><polygon points="1312.8,263.96 1296.78,260.67 1302.73,254.17 1318.58,257.51" fill="#3d4aaa"/><polygon points="1318.58,257.51 1302.73,254.17 1308.54,247.83 1324.21,251.23" fill="#3d4baa"/><polygon points="1324.21,251.23 1308.54,247.83 1314.19,241.65 1329.7,245.11" fill="#3d4bab"/><polygon points="1329.7,245.11 1314.19,241.65 1319.71,235.62 1335.05,239.14" fill="#3d4bab"/><polygon points="1335.05,239.14 1319.71,235.62 1325.09,229.74 1340.27,233.32" fill="#3d4cac"/><polygon points="1340.27,233.32 1325.09,229.74 1330.34,224.01 1345.36,227.64" fill="#3d4cac"/><polygon points="1345.36,227.64 1330.34,224.01 1335.47,218.41 1350.33,222.09" fill="#3d4cad"/><polygon points="1350.33,222.09 1335.47,218.41 1340.47,212.94 1355.18,216.68" fill="#3d4cad"/><polygon points="1355.18,216.68 1340.47,212.94 1345.36,207.6 1359.92,211.4" fill="#3e4dae"/><polygon points="1257.52,303.56 1240.62,300.66 1247.8,292.96 1264.52,295.91" fill="#3c49a7"/><polygon points="1264.52,295.91 1247.8,292.96 1254.8,285.46 1271.33,288.48" fill="#3c49a8"/><polygon points="1271.33,288.48 1254.8,285.46 1261.6,278.17 1277.95,281.24" fill="#3c49a8"/><polygon points="1277.95,281.24 1261.6,278.17 1268.22,271.07 1284.4,274.2" fill="#3d4aa9"/><polygon points="1284.4,274.2 1268.22,271.07 1274.67,264.16 1290.67,267.35" fill="#3d4aa9"/><polygon points="1290.67,267.35 1274.67,264.16 1280.96,257.43 1296.78,260.67" fill="#3d4aaa"/><polygon points="1296.78,260.67 1280.96,257.43 1287.08,250.87 1302.73,254.17" fill="#3d4baa"/><polygon points="1302.73,254.17 1287.08,250.87 1293.05,244.47 1308.54,247.83" fill="#3d4bab"/><polygon points="1308.54,247.83 1293.05,244.47 1298.87,238.23 1314.19,241.65" fill="#3d4bab"/><polygon points="1314.19,241.65 1298.87,238.23 1304.54,232.15 1319.71,235.62" fill="#3d4cac"/><polygon points="1319.71,235.62 1304.54,232.15 1310.08,226.21 1325.09,229.74" fill="#3d4cac"/><polygon points="1325.09,229.74 1310.08,226.21 1315.49,220.42 1330.34,224.01" fill="#3d4cad"/><polygon points="1330.34,224.01 1315.49,220.42 1320.77,214.76 1335.47,218.41" fill="#3e4dae"/><polygon points="1335.47,218.41 1320.77,214.76 1325.92,209.24 1340.47,212.94" fill="#3e4dae"/><polygon points="1340.47,212.94 1325.92,209.24 1330.96,203.84 1345.36,207.6" fill="#3e4daf"/><polygon points="1240.62,300.66 1223.94,297.8 1231.31,290.04 1247.8,292.96" fill="#3c49a7"/><polygon points="1247.8,292.96 1231.31,290.04 1238.48,282.49 1254.8,285.46" fill="#3c49a8"/><polygon points="1254.8,285.46 1238.48,282.49 1245.46,275.14 1261.6,278.17" fill="#3c49a8"/><polygon points="1261.6,278.17 1245.46,275.14 1252.25,267.99 1268.22,271.07" fill="#3d4aa9"/><polygon points="1268.22,271.07 1252.25,267.99 1258.87,261.02 1274.67,264.16" fill="#3d4aa9"/><polygon points="1274.67,264.16 1258.87,261.02 1265.32,254.22 1280.96,257.43" fill="#3d4aaa"/><polygon points="1280.96,257.43 1265.32,254.22 1271.61,247.6 1287.08,250.87" fill="#3d4bab"/><polygon points="1287.08,250.87 1271.61,247.6 1277.74,241.15 1293.05,244.47" fill="#3d4bab"/><polygon points="1293.05,244.47 1277.74,241.15 1283.72,234.85 1298.87,238.23" fill="#3d4bac"/><polygon points="1298.87,238.23 1283.72,234.85 1289.55,228.71 1304.54,232.15" fill="#3d4cac"/><polygon points="1304.54,232.15 1289.55,228.71 1295.24,222.72 1310.08,226.21" fill="#3d4cad"/><polygon points="1310.08,226.21 1295.24,222.72 1300.8,216.87 1315.49,220.42" fill="#3e4dae"/><polygon points="1315.49,220.42 1300.8,216.87 1306.22,211.15 1320.77,214.76" fill="#3e4dae"/><polygon points="1320.77,214.76 1306.22,211.15 1311.52,205.57 1325.92,209.24" fill="#3e4daf"/><polygon points="1325.92,209.24 1311.52,205.57 1316.7,200.12 1330.96,203.84" fill="#3e4eaf"/><polygon points="1223.94,297.8 1207.49,294.98 1215.04,287.16 1231.31,290.04" fill="#3c49a7"/><polygon points="1231.31,290.04 1215.04,287.16 1222.38,279.56 1238.48,282.49" fill="#3c49a8"/><polygon points="1238.48,282.49 1222.38,279.56 1229.53,272.15 1245.46,275.14" fill="#3c49a8"/><polygon points="1245.46,275.14 1229.53,272.15 1236.49,264.94 1252.25,267.99" fill="#3d4aa9"/><polygon points="1252.25,267.99 1236.49,264.94 1243.27,257.91 1258.87,261.02" fill="#3d4aaa"/><polygon points="1258.87,261.02 1243.27,257.91 1249.88,251.06 1265.32,254.22" fill="#3d4baa"/><polygon points="1265.32,254.22 1249.88,251.06 1256.32,244.38 1271.61,247.6" fill="#3d4bab"/><polygon points="1271.61,247.6 1256.32,244.38 1262.61,237.87 1277.74,241.15" fill="#3d4bac"/><polygon points="1277.74,241.15 1262.61,237.87 1268.74,231.51 1283.72,234.85" fill="#3d4cac"/><polygon points="1283.72,234.85 1268.74,231.51 1274.72,225.32 1289.55,228.71" fill="#3d4cad"/><polygon points="1289.55,228.71 1274.72,225.32 1280.56,219.26 1295.24,222.72" fill="#3e4dae"/><polygon points="1295.24,222.72 1280.56,219.26 1286.26,213.35 1300.8,216.87" fill="#3e4dae"/><polygon points="1300.8,216.87 1286.26,213.35 1291.83,207.58 1306.22,211.15" fill="#3e4daf"/><polygon points="1306.22,211.15 1291.83,207.58 1297.27,201.95 1311.52,205.57" fill="#3e4eaf"/><polygon points="1311.52,205.57 1297.27,201.95 1302.59,196.44 1316.7,200.12" fill="#3e4eb0"/><polygon points="1207.49,294.98 1191.27,292.2 1198.98,284.32 1215.04,287.16" fill="#3c49a7"/><polygon points="1215.04,287.16 1198.98,284.32 1206.49,276.66 1222.38,279.56" fill="#3c49a8"/><polygon points="1222.38,279.56 1206.49,276.66 1213.8,269.2 1229.53,272.15" fill="#3d4aa9"/><polygon points="1229.53,272.15 1213.8,269.2 1220.92,261.92 1236.49,264.94" fill="#3d4aa9"/><polygon points="1236.49,264.94 1220.92,261.92 1227.86,254.84 1243.27,257.91" fill="#3d4aaa"/><polygon points="1243.27,257.91 1227.86,254.84 1234.62,247.93 1249.88,251.06" fill="#3d4bab"/><polygon points="1249.88,251.06 1234.62,247.93 1241.22,241.2 1256.32,244.38" fill="#3d4bab"/><polygon points="1256.32,244.38 1241.22,241.2 1247.65,234.62 1262.61,237.87" fill="#3d4cac"/><polygon points="1262.61,237.87 1247.65,234.62 1253.93,228.21 1268.74,231.51" fill="#3d4cad"/><polygon points="1268.74,231.51 1253.93,228.21 1260.06,221.96 1274.72,225.32" fill="#3d4cad"/><polygon points="1274.72,225.32 1260.06,221.96 1266.05,215.85 1280.56,219.26" fill="#3e4dae"/><polygon points="1280.56,219.26 1266.05,215.85 1271.89,209.88 1286.26,213.35" fill="#3e4daf"/><polygon points="1286.26,213.35 1271.89,209.88 1277.6,204.05 1291.83,207.58" fill="#3e4eaf"/><polygon points="1291.83,207.58 1277.6,204.05 1283.18,198.36 1297.27,201.95" fill="#3e4eb0"/><polygon points="1297.27,201.95 1283.18,198.36 1288.63,192.79 1302.59,196.44" fill="#3e50b2"/><polygon points="1191.27,292.2 1175.26,289.45 1183.13,281.52 1198.98,284.32" fill="#3c49a7"/><polygon points="1198.98,284.32 1183.13,281.52 1190.8,273.8 1206.49,276.66" fill="#3c49a8"/><polygon points="1206.49,276.66 1190.8,273.8 1198.26,266.28 1213.8,269.2" fill="#3d4aa9"/><polygon points="1213.8,269.2 1198.26,266.28 1205.54,258.95 1220.92,261.92" fill="#3d4aa9"/><polygon points="1220.92,261.92 1205.54,258.95 1212.63,251.81 1227.86,254.84" fill="#3d4aaa"/><polygon points="1227.86,254.84 1212.63,251.81 1219.55,244.84 1234.62,247.93" fill="#3d4bab"/><polygon points="1234.62,247.93 1219.55,244.84 1226.29,238.05 1241.22,241.2" fill="#3d4bac"/><polygon points="1241.22,241.2 1226.29,238.05 1232.87,231.42 1247.65,234.62" fill="#3d4cac"/><polygon points="1247.65,234.62 1232.87,231.42 1239.3,224.95 1253.93,228.21" fill="#3d4cad"/><polygon points="1253.93,228.21 1239.3,224.95 1245.57,218.63 1260.06,221.96" fill="#3e4dae"/><polygon points="1260.06,221.96 1245.57,218.63 1251.69,212.47 1266.05,215.85" fill="#3e4daf"/><polygon points="1266.05,215.85 1251.69,212.47 1257.67,206.44 1271.89,209.88" fill="#3e4eaf"/><polygon points="1271.89,209.88 1257.67,206.44 1263.51,200.56 1277.6,204.05" fill="#3e4eb0"/><polygon points="1277.6,204.05 1263.51,200.56 1269.22,194.81 1283.18,198.36" fill="#3e50b2"/><polygon points="1283.18,198.36 1269.22,194.81 1274.81,189.18 1288.63,192.79" fill="#3e51b4"/><polygon points="1175.26,289.45 1159.46,286.74 1167.49,278.76 1183.13,281.52" fill="#3c49a7"/><polygon points="1183.13,281.52 1167.49,278.76 1175.31,270.98 1190.8,273.8" fill="#3c49a8"/><polygon points="1190.8,273.8 1175.31,270.98 1182.93,263.4 1198.26,266.28" fill="#3d4aa9"/><polygon points="1198.26,266.28 1182.93,263.4 1190.35,256.01 1205.54,258.95" fill="#3d4aaa"/><polygon points="1205.54,258.95 1190.35,256.01 1197.59,248.81 1212.63,251.81" fill="#3d4baa"/><polygon points="1212.63,251.81 1197.59,248.81 1204.65,241.79 1219.55,244.84" fill="#3d4bab"/><polygon points="1219.55,244.84 1204.65,241.79 1211.54,234.94 1226.29,238.05" fill="#3d4cac"/><polygon points="1226.29,238.05 1211.54,234.94 1218.26,228.25 1232.87,231.42" fill="#3d4cad"/><polygon points="1232.87,231.42 1218.26,228.25 1224.82,221.72 1239.3,224.95" fill="#3e4dae"/><polygon points="1239.3,224.95 1224.82,221.72 1231.23,215.35 1245.57,218.63" fill="#3e4dae"/><polygon points="1245.57,218.63 1231.23,215.35 1237.49,209.13 1251.69,212.47" fill="#3e4daf"/><polygon points="1251.69,212.47 1237.49,209.13 1243.6,203.04 1257.67,206.44" fill="#3e4eb0"/><polygon points="1257.67,206.44 1243.6,203.04 1249.58,197.1 1263.51,200.56" fill="#3e4fb2"/><polygon points="1263.51,200.56 1249.58,197.1 1255.42,191.29 1269.22,194.81" fill="#3e51b4"/><polygon points="1269.22,194.81 1255.42,191.29 1261.13,185.61 1274.81,189.18" fill="#3e53b6"/><polygon points="1159.46,286.74 1143.88,284.07 1152.05,276.03 1167.49,278.76" fill="#3c49a7"/><polygon points="1167.49,278.76 1152.05,276.03 1160.02,268.19 1175.31,270.98" fill="#3c49a8"/><polygon points="1175.31,270.98 1160.02,268.19 1167.79,260.55 1182.93,263.4" fill="#3d4aa9"/><polygon points="1182.93,263.4 1167.79,260.55 1175.35,253.11 1190.35,256.01" fill="#3d4aaa"/><polygon points="1190.35,256.01 1175.35,253.11 1182.74,245.85 1197.59,248.81" fill="#3d4bab"/><polygon points="1197.59,248.81 1182.74,245.85 1189.94,238.77 1204.65,241.79" fill="#3d4bab"/><polygon points="1204.65,241.79 1189.94,238.77 1196.96,231.86 1211.54,234.94" fill="#3d4cac"/><polygon points="1211.54,234.94 1196.96,231.86 1203.82,225.12 1218.26,228.25" fill="#3d4cad"/><polygon points="1218.26,228.25 1203.82,225.12 1210.51,218.53 1224.82,221.72" fill="#3e4dae"/><polygon points="1224.82,221.72 1210.51,218.53 1217.05,212.1 1231.23,215.35" fill="#3e4daf"/><polygon points="1231.23,215.35 1217.05,212.1 1223.44,205.82 1237.49,209.13" fill="#3e4eb0"/><polygon points="1237.49,209.13 1223.44,205.82 1229.68,199.68 1243.6,203.04" fill="#3e4fb1"/><polygon points="1243.6,203.04 1229.68,199.68 1235.78,193.68 1249.58,197.1" fill="#3e51b3"/><polygon points="1249.58,197.1 1235.78,193.68 1241.75,187.81 1255.42,191.29" fill="#3e53b5"/><polygon points="1255.42,191.29 1241.75,187.81 1247.58,182.08 1261.13,185.61" fill="#3e54b7"/><polygon points="1143.88,284.07 1128.49,281.43 1136.82,273.33 1152.05,276.03" fill="#3c49a7"/><polygon points="1152.05,276.03 1136.82,273.33 1144.93,265.44 1160.02,268.19" fill="#3c49a8"/><polygon points="1160.02,268.19 1144.93,265.44 1152.83,257.75 1167.79,260.55" fill="#3d4aa9"/><polygon points="1167.79,260.55 1152.83,257.75 1160.54,250.24 1175.35,253.11" fill="#3d4aaa"/><polygon points="1175.35,253.11 1160.54,250.24 1168.06,242.93 1182.74,245.85" fill="#3d4bab"/><polygon points="1182.74,245.85 1168.06,242.93 1175.39,235.79 1189.94,238.77" fill="#3d4bac"/><polygon points="1189.94,238.77 1175.39,235.79 1182.55,228.82 1196.96,231.86" fill="#3d4cad"/><polygon points="1196.96,231.86 1182.55,228.82 1189.54,222.02 1203.82,225.12" fill="#3e4dae"/><polygon points="1203.82,225.12 1189.54,222.02 1196.36,215.38 1210.51,218.53" fill="#3e4dae"/><polygon points="1210.51,218.53 1196.36,215.38 1203.03,208.89 1217.05,212.1" fill="#3e4eaf"/><polygon points="1217.05,212.1 1203.03,208.89 1209.55,202.55 1223.44,205.82" fill="#3e4eb0"/><polygon points="1223.44,205.82 1209.55,202.55 1215.91,196.35 1229.68,199.68" fill="#3e50b3"/><polygon points="1229.68,199.68 1215.91,196.35 1222.14,190.29 1235.78,193.68" fill="#3e52b5"/><polygon points="1235.78,193.68 1222.14,190.29 1228.22,184.37 1241.75,187.81" fill="#3e54b7"/><polygon points="1241.75,187.81 1228.22,184.37 1234.18,178.58 1247.58,182.08" fill="#3e56b9"/><polygon points="1128.49,281.43 1113.31,278.83 1121.77,270.67 1136.82,273.33" fill="#3c49a7"/><polygon points="1136.82,273.33 1121.77,270.67 1130.02,262.72 1144.93,265.44" fill="#3c49a8"/><polygon points="1144.93,265.44 1130.02,262.72 1138.06,254.97 1152.83,257.75" fill="#3d4aa9"/><polygon points="1152.83,257.75 1138.06,254.97 1145.9,247.41 1160.54,250.24" fill="#3d4aaa"/><polygon points="1160.54,250.24 1145.9,247.41 1153.55,240.04 1168.06,242.93" fill="#3d4bab"/><polygon points="1168.06,242.93 1153.55,240.04 1161.02,232.84 1175.39,235.79" fill="#3d4cac"/><polygon points="1175.39,235.79 1161.02,232.84 1168.3,225.82 1182.55,228.82" fill="#3d4cad"/><polygon points="1182.55,228.82 1168.3,225.82 1175.42,218.96 1189.54,222.02" fill="#3e4dae"/><polygon points="1189.54,222.02 1175.42,218.96 1182.37,212.26 1196.36,215.38" fill="#3e4daf"/><polygon points="1196.36,215.38 1182.37,212.26 1189.16,205.71 1203.03,208.89" fill="#3e4eb0"/><polygon points="1203.03,208.89 1189.16,205.71 1195.8,199.31 1209.55,202.55" fill="#3e4fb2"/><polygon points="1209.55,202.55 1195.8,199.31 1202.29,193.06 1215.91,196.35" fill="#3e51b4"/><polygon points="1215.91,196.35 1202.29,193.06 1208.63,186.94 1222.14,190.29" fill="#3e53b6"/><polygon points="1222.14,190.29 1208.63,186.94 1214.83,180.96 1228.22,184.37" fill="#3e55b9"/><polygon points="1228.22,184.37 1214.83,180.96 1220.9,175.11 1234.18,178.58" fill="#3e57bb"/><polygon points="1113.31,278.83 1098.33,276.26 1106.92,268.04 1121.77,270.67" fill="#3c49a7"/><polygon points="1121.77,270.67 1106.92,268.04 1115.3,260.04 1130.02,262.72" fill="#3c49a8"/><polygon points="1130.02,262.72 1115.3,260.04 1123.47,252.23 1138.06,254.97" fill="#3d4aa9"/><polygon points="1138.06,254.97 1123.47,252.23 1131.44,244.62 1145.9,247.41" fill="#3d4baa"/><polygon points="1145.9,247.41 1131.44,244.62 1139.22,237.18 1153.55,240.04" fill="#3d4bab"/><polygon points="1153.55,240.04 1139.22,237.18 1146.81,229.93 1161.02,232.84" fill="#3d4cac"/><polygon points="1161.02,232.84 1146.81,229.93 1154.22,222.85 1168.3,225.82" fill="#3d4cad"/><polygon points="1168.3,225.82 1154.22,222.85 1161.46,215.93 1175.42,218.96" fill="#3e4dae"/><polygon points="1175.42,218.96 1161.46,215.93 1168.53,209.17 1182.37,212.26" fill="#3e4eaf"/><polygon points="1182.37,212.26 1168.53,209.17 1175.44,202.57 1189.16,205.71" fill="#3e4fb1"/><polygon points="1189.16,205.71 1175.44,202.57 1182.2,196.11 1195.8,199.31" fill="#3e51b3"/><polygon points="1195.8,199.31 1182.2,196.11 1188.8,189.8 1202.29,193.06" fill="#3e53b6"/><polygon points="1202.29,193.06 1188.8,189.8 1195.26,183.63 1208.63,186.94" fill="#3e55b8"/><polygon points="1208.63,186.94 1195.26,183.63 1201.58,177.59 1214.83,180.96" fill="#3e57ba"/><polygon points="1214.83,180.96 1201.58,177.59 1207.76,171.68 1220.9,175.11" fill="#3e59bd"/><polygon points="1098.33,276.26 1083.54,273.72 1092.26,265.45 1106.92,268.04" fill="#3c49a7"/><polygon points="1106.92,268.04 1092.26,265.45 1100.76,257.39 1115.3,260.04" fill="#3c49a8"/><polygon points="1115.3,260.04 1100.76,257.39 1109.06,249.53 1123.47,252.23" fill="#3d4aa9"/><polygon points="1123.47,252.23 1109.06,249.53 1117.15,241.85 1131.44,244.62" fill="#3d4baa"/><polygon points="1131.44,244.62 1117.15,241.85 1125.05,234.36 1139.22,237.18" fill="#3d4bac"/><polygon points="1139.22,237.18 1125.05,234.36 1132.77,227.05 1146.81,229.93" fill="#3d4cad"/><polygon points="1146.81,229.93 1132.77,227.05 1140.3,219.91 1154.22,222.85" fill="#3e4dae"/><polygon points="1154.22,222.85 1140.3,219.91 1147.66,212.94 1161.46,215.93" fill="#3e4daf"/><polygon points="1161.46,215.93 1147.66,212.94 1154.85,206.12 1168.53,209.17" fill="#3e4eb0"/><polygon points="1168.53,209.17 1154.85,206.12 1161.87,199.46 1175.44,202.57" fill="#3e50b2"/><polygon points="1175.44,202.57 1161.87,199.46 1168.74,192.95 1182.2,196.11" fill="#3e52b4"/><polygon points="1182.2,196.11 1168.74,192.95 1175.46,186.58 1188.8,189.8" fill="#3e54b7"/><polygon points="1188.8,189.8 1175.46,186.58 1182.03,180.35 1195.26,183.63" fill="#3e56ba"/><polygon points="1195.26,183.63 1182.03,180.35 1188.46,174.25 1201.58,177.59" fill="#3e58bc"/><polygon points="1201.58,177.59 1188.46,174.25 1194.75,168.29 1207.76,171.68" fill="#3d5fc0"/><polygon points="1083.54,273.72 1068.93,271.21 1077.78,262.89 1092.26,265.45" fill="#3c49a7"/><polygon points="1092.26,265.45 1077.78,262.89 1086.41,254.77 1100.76,257.39" fill="#3c49a8"/><polygon points="1100.76,257.39 1086.41,254.77 1094.82,246.85 1109.06,249.53" fill="#3d4aaa"/><polygon points="1109.06,249.53 1094.82,246.85 1103.04,239.12 1117.15,241.85" fill="#3d4bab"/><polygon points="1117.15,241.85 1103.04,239.12 1111.05,231.58 1125.05,234.36" fill="#3d4bac"/><polygon points="1125.05,234.36 1111.05,231.58 1118.88,224.21 1132.77,227.05" fill="#3d4cad"/><polygon points="1132.77,227.05 1118.88,224.21 1126.53,217.01 1140.3,219.91" fill="#3e4dae"/><polygon points="1140.3,219.91 1126.53,217.01 1134.01,209.97 1147.66,212.94" fill="#3e4daf"/><polygon points="1147.66,212.94 1134.01,209.97 1141.31,203.1 1154.85,206.12" fill="#3e4eb0"/><polygon points="1154.85,206.12 1141.31,203.1 1148.45,196.38 1161.87,199.46" fill="#3e51b3"/><polygon points="1161.87,199.46 1148.45,196.38 1155.43,189.81 1168.74,192.95" fill="#3e53b6"/><polygon points="1168.74,192.95 1155.43,189.81 1162.26,183.39 1175.46,186.58" fill="#3e55b8"/><polygon points="1175.46,186.58 1162.26,183.39 1168.94,177.1 1182.03,180.35" fill="#3e58bb"/><polygon points="1182.03,180.35 1168.94,177.1 1175.48,170.95 1188.46,174.25" fill="#3e5abe"/><polygon points="1188.46,174.25 1175.48,170.95 1181.87,164.93 1194.75,168.29" fill="#3c6cc3"/><polygon points="1068.93,271.21 1054.52,268.74 1063.48,260.36 1077.78,262.89" fill="#3c49a7"/><polygon points="1077.78,262.89 1063.48,260.36 1072.22,252.19 1086.41,254.77" fill="#3d4aa9"/><polygon points="1086.41,254.77 1072.22,252.19 1080.76,244.21 1094.82,246.85" fill="#3d4aaa"/><polygon points="1094.82,246.85 1080.76,244.21 1089.09,236.42 1103.04,239.12" fill="#3d4bab"/><polygon points="1103.04,239.12 1089.09,236.42 1097.22,228.82 1111.05,231.58" fill="#3d4cac"/><polygon points="1111.05,231.58 1097.22,228.82 1105.16,221.39 1118.88,224.21" fill="#3d4cad"/><polygon points="1118.88,224.21 1105.16,221.39 1112.92,214.14 1126.53,217.01" fill="#3e4dae"/><polygon points="1126.53,217.01 1112.92,214.14 1120.51,207.05 1134.01,209.97" fill="#3e4eaf"/><polygon points="1134.01,209.97 1120.51,207.05 1127.92,200.12 1141.31,203.1" fill="#3e4fb1"/><polygon points="1141.31,203.1 1127.92,200.12 1135.17,193.34 1148.45,196.38" fill="#3e52b4"/><polygon points="1148.45,196.38 1135.17,193.34 1142.26,186.71 1155.43,189.81" fill="#3e54b7"/><polygon points="1155.43,189.81 1142.26,186.71 1149.19,180.23 1162.26,183.39" fill="#3e56ba"/><polygon points="1162.26,183.39 1149.19,180.23 1155.98,173.88 1168.94,177.1" fill="#3e59bd"/><polygon points="1168.94,177.1 1155.98,173.88 1162.62,167.67 1175.48,170.95" fill="#3d65c1"/><polygon points="1175.48,170.95 1162.62,167.67 1169.12,161.6 1181.87,164.93" fill="#3a7ac7"/><polygon points="1054.52,268.74 1040.28,266.3 1049.36,257.87 1063.48,260.36" fill="#3c49a7"/><polygon points="1063.48,260.36 1049.36,257.87 1058.22,249.63 1072.22,252.19" fill="#3d4aa9"/><polygon points="1072.22,252.19 1058.22,249.63 1066.86,241.6 1080.76,244.21" fill="#3d4aaa"/><polygon points="1080.76,244.21 1066.86,241.6 1075.3,233.76 1089.09,236.42" fill="#3d4bab"/><polygon points="1089.09,236.42 1075.3,233.76 1083.54,226.1 1097.22,228.82" fill="#3d4cac"/><polygon points="1097.22,228.82 1083.54,226.1 1091.6,218.61 1105.16,221.39" fill="#3d4cad"/><polygon points="1105.16,221.39 1091.6,218.61 1099.46,211.3 1112.92,214.14" fill="#3e4daf"/><polygon points="1112.92,214.14 1099.46,211.3 1107.15,204.15 1120.51,207.05" fill="#3e4eb0"/><polygon points="1120.51,207.05 1107.15,204.15 1114.67,197.16 1127.92,200.12" fill="#3e50b2"/><polygon points="1127.92,200.12 1114.67,197.16 1122.03,190.33 1135.17,193.34" fill="#3e53b5"/><polygon points="1135.17,193.34 1122.03,190.33 1129.22,183.64 1142.26,186.71" fill="#3e55b8"/><polygon points="1142.26,186.71 1129.22,183.64 1136.26,177.1 1149.19,180.23" fill="#3e58bb"/><polygon points="1149.19,180.23 1136.26,177.1 1143.15,170.7 1155.98,173.88" fill="#3e5cbf"/><polygon points="1155.98,173.88 1143.15,170.7 1149.89,164.43 1162.62,167.67" fill="#3b71c5"/><polygon points="1162.62,167.67 1149.89,164.43 1156.49,158.3 1169.12,161.6" fill="#3988ca"/></g>
<defs><clipPath id="cA"><polygon points="308.68,250.6 70.22,191.7 188.39,66 393.98,185.4"/></clipPath><clipPath id="cB"><polygon points="803.98,262.9 567.1,224.2 684.64,123.4 888.76,205"/></clipPath><clipPath id="cC"><polygon points="1274.66,306.5 1040.28,266.3 1156.49,158.3 1359.92,211.4"/></clipPath></defs>
<line x1="188.39" y1="66" x2="190.7" y2="244.22" stroke="#0a3a2a" stroke-width="1" stroke-dasharray="3 2" opacity="0.28" clip-path="url(#cA)"/>
<line x1="684.64" y1="123.4" x2="686.2" y2="244.32" stroke="#0a3a2a" stroke-width="1" stroke-dasharray="3 2" opacity="0.28" clip-path="url(#cB)"/>
<line x1="1156.49" y1="158.3" x2="1157.6" y2="244.32" stroke="#0a3a2a" stroke-width="1" stroke-dasharray="3 2" opacity="0.28" clip-path="url(#cC)"/>
<polygon points="236.3,123.68 240.8,132.22 231.8,132.22" fill="#0a0a0a" opacity="1"/>
<polygon points="200.3,146.47 204.8,155.02 195.8,155.02" fill="#0a0a0a" opacity="1"/>
<polygon points="219.1,145.08 223.6,153.62 214.6,153.62" fill="#0a0a0a" opacity="1"/>
<polygon points="188,171.97 192.5,180.52 183.5,180.52" fill="#0a0a0a" opacity="1"/>
<polygon points="177.2,180.78 181.7,189.32 172.7,189.32" fill="#0a0a0a" opacity="1"/>
<polygon points="364.3,166.38 368.8,174.92 359.8,174.92" fill="#0a0a0a" opacity="1"/>
<polygon points="360.5,171.08 365,179.62 356,179.62" fill="#0a0a0a" opacity="1"/>
<polygon points="331.8,179.78 336.3,188.32 327.3,188.32" fill="#0a0a0a" opacity="1"/>
<polygon points="303.4,196.47 307.9,205.02 298.9,205.02" fill="#0a0a0a" opacity="1"/>
<polygon points="301.1,203.78 305.6,212.32 296.6,212.32" fill="#0a0a0a" opacity="1"/>
<polygon points="325.4,199.97 329.9,208.52 320.9,208.52" fill="#0a0a0a" opacity="1"/>
<circle cx="119.7" cy="231.8" r="5" fill="#0a0a0a" opacity="1"/>
<circle cx="167.3" cy="232.6" r="5" fill="#0a0a0a" opacity="1"/>
<circle cx="161.8" cy="252.1" r="5" fill="#0a0a0a" opacity="1"/>
<circle cx="298.1" cy="263.5" r="5" fill="#0a0a0a" opacity="1"/>
<circle cx="316.6" cy="243.7" r="5" fill="#0a0a0a" opacity="0.3"/>
<circle cx="186.6" cy="198" r="5" fill="#0a0a0a" opacity="0.3"/>
<circle cx="253.9" cy="152.1" r="5" fill="#0a0a0a" opacity="0.1"/>
<circle cx="666.6" cy="196.8" r="5" fill="#0a0a0a" opacity="1"/>
<circle cx="690.3" cy="193.9" r="5" fill="#0a0a0a" opacity="0.3"/>
<polygon points="718.7,177.76 721.5,183.08 715.9,183.08" fill="#0a0a0a" opacity="0.75"/>
<polygon points="712.8,191.46 715.6,196.78 710,196.78" fill="#0a0a0a" opacity="0.75"/>
<circle cx="617.2" cy="220.2" r="5" fill="#0a0a0a" opacity="0.3"/>
<circle cx="656.7" cy="235.4" r="5" fill="#0a0a0a" opacity="0.3"/>
<polygon points="682.1,241.18 686.6,249.72 677.6,249.72" fill="#0a0a0a" opacity="0.3"/>
<circle cx="693.8" cy="242.1" r="5" fill="#0a0a0a" opacity="0.3"/>
<polygon points="740.6,197.88 745.1,206.42 736.1,206.42" fill="#0a0a0a" opacity="0.3"/>
<circle cx="817.7" cy="202.2" r="5" fill="#0a0a0a" opacity="1"/>
<circle cx="818.6" cy="206.8" r="5" fill="#0a0a0a" opacity="1"/>
<circle cx="796.7" cy="221.2" r="5" fill="#0a0a0a" opacity="1"/>
<circle cx="796.7" cy="241.6" r="5" fill="#0a0a0a" opacity="1"/>
<polygon points="857.2,222.78 861.7,231.32 852.7,231.32" fill="#0a0a0a" opacity="0.3"/>
<polygon points="829.5,241.47 834,250.02 825,250.02" fill="#0a0a0a" opacity="0.3"/>
<polygon points="759.2,195.97 763.7,204.52 754.7,204.52" fill="#0a0a0a" opacity="0.3"/>
<polygon points="741.7,196.88 746.2,205.42 737.2,205.42" fill="#0a0a0a" opacity="0.3"/>
<polygon points="863,203.28 867.5,211.82 858.5,211.82" fill="#0a0a0a" opacity="0.3"/>
<polygon points="836.7,231.97 841.2,240.52 832.2,240.52" fill="#0a0a0a" opacity="0.3"/>
<polygon points="801.6,250.08 806.1,258.62 797.1,258.62" fill="#0a0a0a" opacity="0.3"/>
<circle cx="1159" cy="188.3" r="5" fill="#0a0a0a" opacity="1"/>
<circle cx="1141.9" cy="203.3" r="5" fill="#0a0a0a" opacity="1"/>
<circle cx="1087.3" cy="231.7" r="5" fill="#0a0a0a" opacity="1"/>
<polygon points="1153.2,285.97 1157.7,294.52 1148.7,294.52" fill="#0a0a0a" opacity="0.3"/>
<polygon points="1167.5,284.27 1172,292.82 1163,292.82" fill="#0a0a0a" opacity="0.3"/>
<circle cx="1128.3" cy="275.4" r="5" fill="#0a0a0a" opacity="0.3"/>
<circle cx="1191.4" cy="253.9" r="5" fill="#0a0a0a" opacity="0.1"/>
<circle cx="1198.2" cy="270.9" r="5" fill="#0a0a0a" opacity="0.1"/>
<circle cx="1217" cy="240" r="5" fill="#0a0a0a" opacity="0.1"/>
<circle cx="1296.6" cy="237.8" r="5" fill="#0a0a0a" opacity="1"/>
<circle cx="1265.9" cy="269.5" r="5" fill="#0a0a0a" opacity="1"/>
<polygon points="1273.4,269.57 1277.9,278.12 1268.9,278.12" fill="#0a0a0a" opacity="1"/>
<polygon points="1305.8,273.27 1310.3,281.82 1301.3,281.82" fill="#0a0a0a" opacity="0.3"/>
<polygon points="1330.7,238.18 1335.2,246.72 1326.2,246.72" fill="#0a0a0a" opacity="0.3"/>
<circle cx="1264.2" cy="311.2" r="5" fill="#0a0a0a" opacity="1"/>
<polygon points="1329,228.58 1333.5,237.12 1324.5,237.12" fill="#0a0a0a" opacity="0.3"/>
<polygon points="1309.2,247.78 1313.7,256.32 1304.7,256.32" fill="#0a0a0a" opacity="0.3"/>
<polygon points="1295.6,256.97 1300.1,265.52 1291.1,265.52" fill="#0a0a0a" opacity="0.3"/>
<polygon points="1274.4,291.07 1278.9,299.62 1269.9,299.62" fill="#0a0a0a" opacity="0.3"/>
<polygon points="1215.4,235.47 1219.9,244.02 1210.9,244.02" fill="#0a0a0a" opacity="0.3"/>
<polygon points="1236.9,241.58 1241.4,250.12 1232.4,250.12" fill="#0a0a0a" opacity="0.3"/>
<rect x="403.1" y="46.2" width="44.2" height="14.2" fill="#2e2d7f" stroke="#111" stroke-width="1.2"/>
<text transform="translate(458.8,60) scale(1,1.05)" class="t" style="font-size:19px">0</text>
<rect x="403.1" y="70.8" width="44.2" height="14.2" fill="#2b3990" stroke="#111" stroke-width="1.2"/>
<text transform="translate(458.8,84.6) scale(1,1.05)" class="t" style="font-size:19px">10</text>
<rect x="403.1" y="95.4" width="44.2" height="14.2" fill="#3853a4" stroke="#111" stroke-width="1.2"/>
<text transform="translate(458.8,109.2) scale(1,1.05)" class="t" style="font-size:19px">20</text>
<rect x="403.1" y="120" width="44.2" height="14.2" fill="#0d8b5b" stroke="#111" stroke-width="1.2"/>
<text transform="translate(458.8,133.8) scale(1,1.05)" class="t" style="font-size:19px">30</text>
<rect x="403.1" y="144.6" width="44.2" height="14.2" fill="#6abd45" stroke="#111" stroke-width="1.2"/>
<text transform="translate(458.8,158.4) scale(1,1.05)" class="t" style="font-size:19px">40</text>
<rect x="403.1" y="169.2" width="44.2" height="14.2" fill="#f4ec27" stroke="#111" stroke-width="1.2"/>
<text transform="translate(458.8,183) scale(1,1.05)" class="t" style="font-size:19px">50</text>
<rect x="403.1" y="193.8" width="44.2" height="14.2" fill="#fcb017" stroke="#111" stroke-width="1.2"/>
<text transform="translate(458.8,207.6) scale(1,1.05)" class="t" style="font-size:19px">60</text>
<rect x="403.1" y="218.4" width="44.2" height="14.2" fill="#f05a28" stroke="#111" stroke-width="1.2"/>
<text transform="translate(458.8,232.2) scale(1,1.05)" class="t" style="font-size:19px">70</text>
<text x="69.5" y="24.3" class="b">A</text>
<text x="565.5" y="24.3" class="b">B</text>
<text x="1025.1" y="24.3" class="b">C</text>
<g transform="translate(32.3,324.5) rotate(-92.1)" class="a" style="font-size:23.5px"><text x="0" y="0" textLength="245.8" lengthAdjust="spacing">Days 0 - 5 RGR (% day</text><text x="248.3" y="-13.2" font-size="13.4" stroke-width="0.4" textLength="10.8" lengthAdjust="spacing">-1</text><text x="260.3" y="0">)</text></g>
<g transform="translate(531.7,334) rotate(-92.1)" class="a" style="font-size:23.5px"><text x="0" y="0" textLength="258.2" lengthAdjust="spacing">Days 5 - 10 RGR (% day</text><text x="260.2" y="-13.2" font-size="13.4" stroke-width="0.4" textLength="10.8" lengthAdjust="spacing">-1</text><text x="271.8" y="0">)</text></g>
<g transform="translate(1000,332.5) rotate(-92.1)" class="a" style="font-size:21.2px"><text x="0" y="0" textLength="245.4" lengthAdjust="spacing">Days 10 - 20 RGR (% day</text><text x="247.3" y="-13.2" font-size="13.4" stroke-width="0.4" textLength="10.8" lengthAdjust="spacing">-1</text><text x="261.3" y="0">)</text></g>
<text transform="translate(154.5,395.8) rotate(11) scale(1,1.15)" class="a" style="font-size:23.2px;font-style:italic">NH<tspan dy="5.2" dx="-1.5" font-size="14.5">4</tspan><tspan dy="-17.8" dx="2.5" font-size="15">+</tspan></text>
<text transform="translate(407,359.5) rotate(-46)" class="a">pCO<tspan dy="7.2" dx="0" font-size="15" stroke-width="0.5">2</tspan></text>
<text transform="translate(644.4,394.3) rotate(11) scale(1,1.15)" class="a" style="font-size:23.2px;font-style:italic">NH<tspan dy="5.2" dx="-1.5" font-size="14.5">4</tspan><tspan dy="-17.8" dx="2.5" font-size="15">+</tspan></text>
<text transform="translate(899.7,358.5) rotate(-46)" class="a">pCO<tspan dy="7.2" dx="0" font-size="15" stroke-width="0.5">2</tspan></text>
<text transform="translate(1120,394.6) rotate(11) scale(1,1.15)" class="a" style="font-size:23.2px;font-style:italic">NH<tspan dy="5.2" dx="-1.5" font-size="14.5">4</tspan><tspan dy="-17.8" dx="2.5" font-size="15">+</tspan></text>
<text transform="translate(1373.9,357.6) rotate(-46)" class="a">pCO<tspan dy="7.2" dx="0" font-size="15" stroke-width="0.5">2</tspan></text>
</svg>
</body></html>
